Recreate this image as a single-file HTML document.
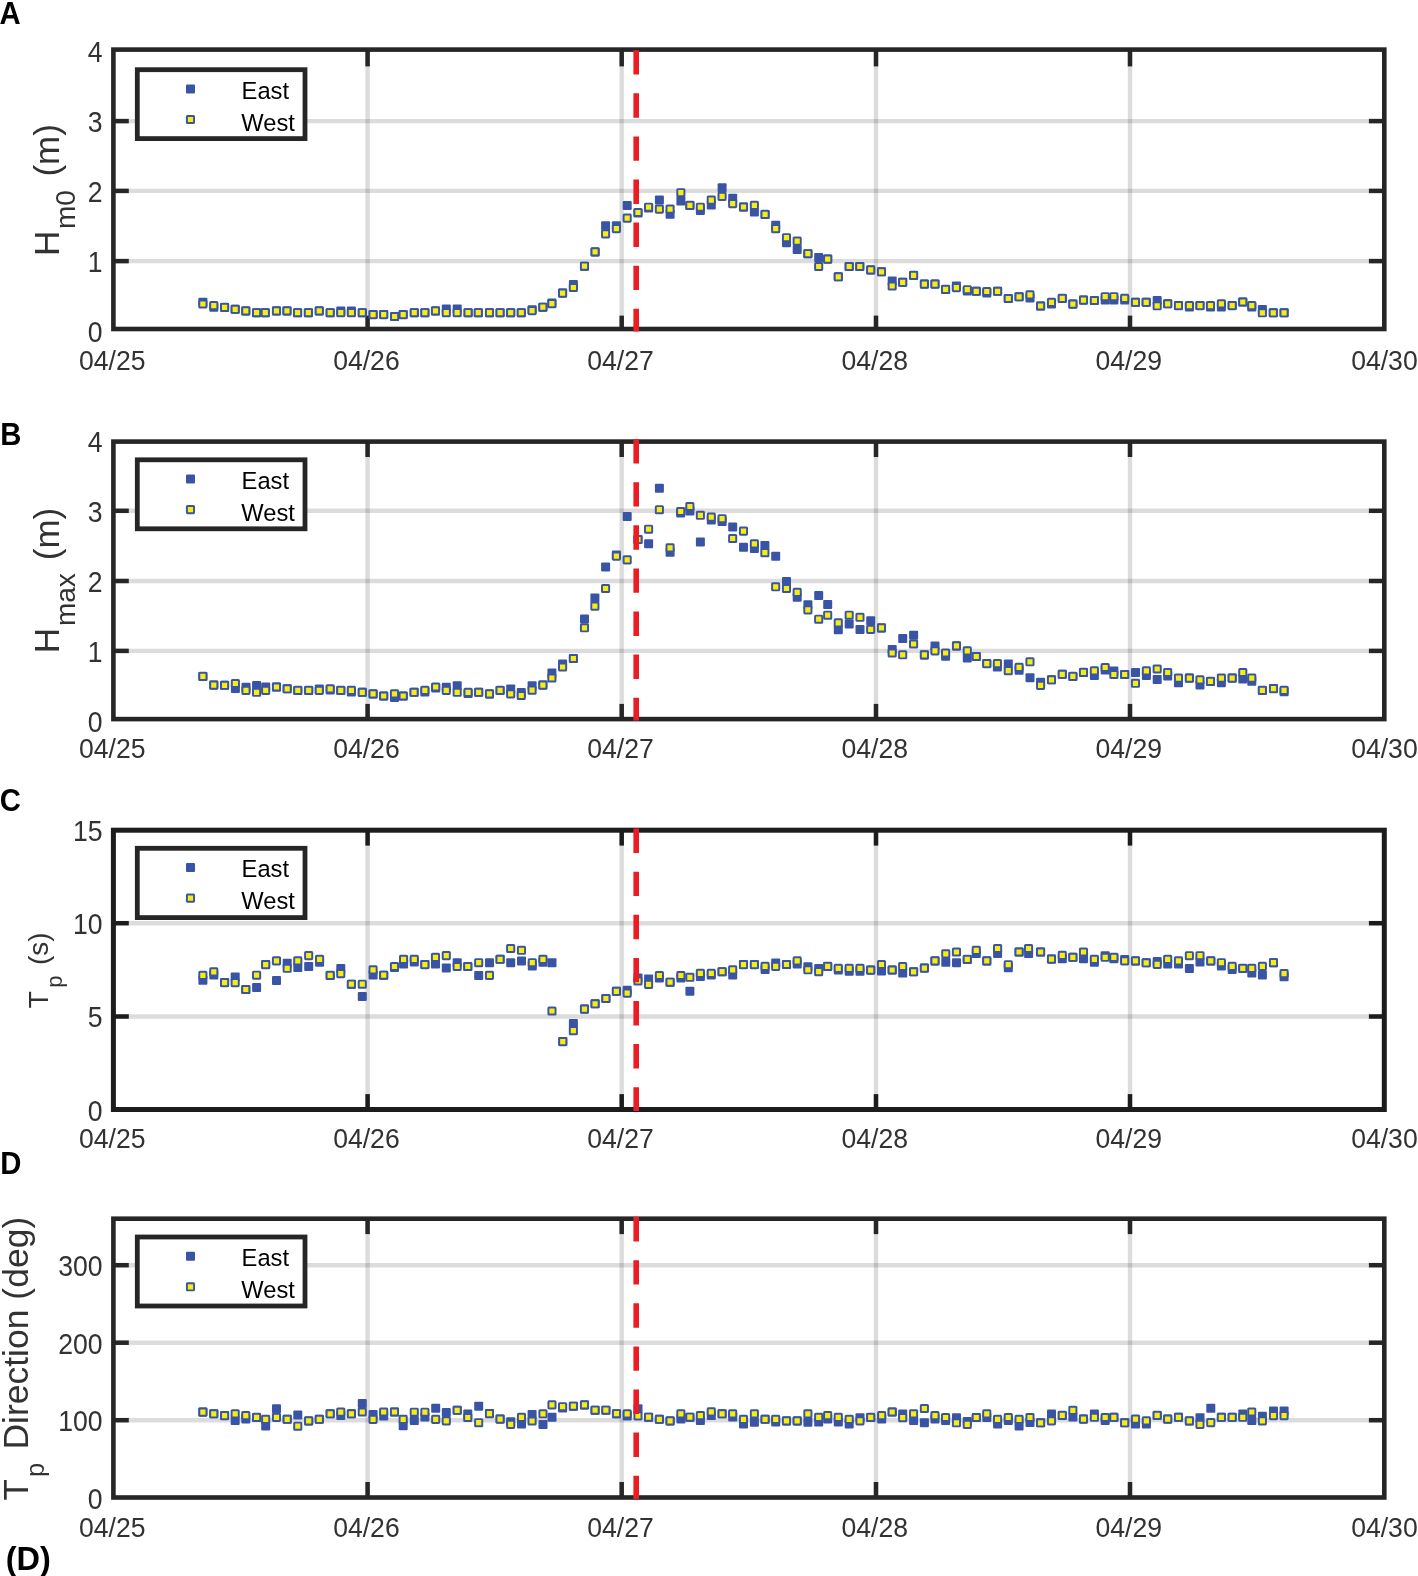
<!DOCTYPE html><html><head><meta charset="utf-8"><style>html,body{margin:0;padding:0;background:#fff;overflow:hidden;}svg{display:block;font-family:"Liberation Sans", sans-serif;filter:blur(0.45px);}</style></head><body>
<svg width="1418" height="1576" viewBox="0 0 1418 1576">
<rect width="1418" height="1576" fill="#fff"/>
<g><line x1="113.4" y1="261.1" x2="1384.3" y2="261.1" stroke="#262626" stroke-opacity="0.16" stroke-width="4.4"/><line x1="113.4" y1="190.9" x2="1384.3" y2="190.9" stroke="#262626" stroke-opacity="0.16" stroke-width="4.4"/><line x1="113.4" y1="121.1" x2="1384.3" y2="121.1" stroke="#262626" stroke-opacity="0.16" stroke-width="4.4"/><line x1="367.6" y1="49.6" x2="367.6" y2="329.0" stroke="#262626" stroke-opacity="0.16" stroke-width="4.4"/><line x1="621.7" y1="49.6" x2="621.7" y2="329.0" stroke="#262626" stroke-opacity="0.16" stroke-width="4.4"/><line x1="876.0" y1="49.6" x2="876.0" y2="329.0" stroke="#262626" stroke-opacity="0.16" stroke-width="4.4"/><line x1="1130.0" y1="49.6" x2="1130.0" y2="329.0" stroke="#262626" stroke-opacity="0.16" stroke-width="4.4"/><line x1="113.4" y1="261.1" x2="128.8" y2="261.1" stroke="#262626" stroke-width="4.5"/><line x1="1368.8999999999999" y1="261.1" x2="1384.3" y2="261.1" stroke="#262626" stroke-width="4.5"/><line x1="113.4" y1="190.9" x2="128.8" y2="190.9" stroke="#262626" stroke-width="4.5"/><line x1="1368.8999999999999" y1="190.9" x2="1384.3" y2="190.9" stroke="#262626" stroke-width="4.5"/><line x1="113.4" y1="121.1" x2="128.8" y2="121.1" stroke="#262626" stroke-width="4.5"/><line x1="1368.8999999999999" y1="121.1" x2="1384.3" y2="121.1" stroke="#262626" stroke-width="4.5"/><line x1="367.6" y1="49.6" x2="367.6" y2="66.4" stroke="#262626" stroke-width="4.5"/><line x1="367.6" y1="315.6" x2="367.6" y2="329.0" stroke="#262626" stroke-width="4.5"/><line x1="621.7" y1="49.6" x2="621.7" y2="66.4" stroke="#262626" stroke-width="4.5"/><line x1="621.7" y1="315.6" x2="621.7" y2="329.0" stroke="#262626" stroke-width="4.5"/><line x1="876.0" y1="49.6" x2="876.0" y2="66.4" stroke="#262626" stroke-width="4.5"/><line x1="876.0" y1="315.6" x2="876.0" y2="329.0" stroke="#262626" stroke-width="4.5"/><line x1="1130.0" y1="49.6" x2="1130.0" y2="66.4" stroke="#262626" stroke-width="4.5"/><line x1="1130.0" y1="315.6" x2="1130.0" y2="329.0" stroke="#262626" stroke-width="4.5"/><rect x="113.4" y="49.6" width="1270.9" height="279.4" fill="none" stroke="#262626" stroke-width="4.6"/><rect x="198.4" y="297.7" width="9.0" height="9.0" rx="1" fill="#3a54a5"/><rect x="209.3" y="302.7" width="9.0" height="9.0" rx="1" fill="#3a54a5"/><rect x="220.1" y="302.9" width="9.0" height="9.0" rx="1" fill="#3a54a5"/><rect x="230.7" y="304.8" width="9.0" height="9.0" rx="1" fill="#3a54a5"/><rect x="241.3" y="306.4" width="9.0" height="9.0" rx="1" fill="#3a54a5"/><rect x="252.1" y="308.2" width="9.0" height="9.0" rx="1" fill="#3a54a5"/><rect x="260.8" y="308.2" width="9.0" height="9.0" rx="1" fill="#3a54a5"/><rect x="272.0" y="306.4" width="9.0" height="9.0" rx="1" fill="#3a54a5"/><rect x="282.5" y="306.4" width="9.0" height="9.0" rx="1" fill="#3a54a5"/><rect x="293.1" y="308.2" width="9.0" height="9.0" rx="1" fill="#3a54a5"/><rect x="303.9" y="308.2" width="9.0" height="9.0" rx="1" fill="#3a54a5"/><rect x="314.8" y="306.4" width="9.0" height="9.0" rx="1" fill="#3a54a5"/><rect x="325.7" y="308.2" width="9.0" height="9.0" rx="1" fill="#3a54a5"/><rect x="336.3" y="306.5" width="9.0" height="9.0" rx="1" fill="#3a54a5"/><rect x="346.9" y="306.5" width="9.0" height="9.0" rx="1" fill="#3a54a5"/><rect x="357.8" y="308.2" width="9.0" height="9.0" rx="1" fill="#3a54a5"/><rect x="368.6" y="310.1" width="9.0" height="9.0" rx="1" fill="#3a54a5"/><rect x="379.2" y="310.1" width="9.0" height="9.0" rx="1" fill="#3a54a5"/><rect x="390.1" y="312.0" width="9.0" height="9.0" rx="1" fill="#3a54a5"/><rect x="398.7" y="310.1" width="9.0" height="9.0" rx="1" fill="#3a54a5"/><rect x="409.8" y="308.2" width="9.0" height="9.0" rx="1" fill="#3a54a5"/><rect x="420.4" y="308.2" width="9.0" height="9.0" rx="1" fill="#3a54a5"/><rect x="431.0" y="306.4" width="9.0" height="9.0" rx="1" fill="#3a54a5"/><rect x="441.8" y="304.5" width="9.0" height="9.0" rx="1" fill="#3a54a5"/><rect x="452.7" y="304.5" width="9.0" height="9.0" rx="1" fill="#3a54a5"/><rect x="463.6" y="308.2" width="9.0" height="9.0" rx="1" fill="#3a54a5"/><rect x="473.8" y="308.2" width="9.0" height="9.0" rx="1" fill="#3a54a5"/><rect x="485.0" y="308.2" width="9.0" height="9.0" rx="1" fill="#3a54a5"/><rect x="495.6" y="308.2" width="9.0" height="9.0" rx="1" fill="#3a54a5"/><rect x="506.2" y="308.2" width="9.0" height="9.0" rx="1" fill="#3a54a5"/><rect x="516.8" y="308.2" width="9.0" height="9.0" rx="1" fill="#3a54a5"/><rect x="527.6" y="305.3" width="9.0" height="9.0" rx="1" fill="#3a54a5"/><rect x="538.4" y="302.7" width="9.0" height="9.0" rx="1" fill="#3a54a5"/><rect x="547.4" y="298.4" width="9.0" height="9.0" rx="1" fill="#3a54a5"/><rect x="558.1" y="288.6" width="9.0" height="9.0" rx="1" fill="#3a54a5"/><rect x="568.9" y="279.9" width="9.0" height="9.0" rx="1" fill="#3a54a5"/><rect x="580.0" y="261.7" width="9.0" height="9.0" rx="1" fill="#3a54a5"/><rect x="590.6" y="247.4" width="9.0" height="9.0" rx="1" fill="#3a54a5"/><rect x="601.1" y="221.2" width="9.0" height="9.0" rx="1" fill="#3a54a5"/><rect x="611.9" y="221.2" width="9.0" height="9.0" rx="1" fill="#3a54a5"/><rect x="622.7" y="200.9" width="9.0" height="9.0" rx="1" fill="#3a54a5"/><rect x="633.5" y="208.5" width="9.0" height="9.0" rx="1" fill="#3a54a5"/><rect x="644.1" y="203.5" width="9.0" height="9.0" rx="1" fill="#3a54a5"/><rect x="654.9" y="195.5" width="9.0" height="9.0" rx="1" fill="#3a54a5"/><rect x="665.6" y="209.7" width="9.0" height="9.0" rx="1" fill="#3a54a5"/><rect x="676.4" y="196.5" width="9.0" height="9.0" rx="1" fill="#3a54a5"/><rect x="685.4" y="200.9" width="9.0" height="9.0" rx="1" fill="#3a54a5"/><rect x="695.9" y="206.0" width="9.0" height="9.0" rx="1" fill="#3a54a5"/><rect x="706.8" y="200.5" width="9.0" height="9.0" rx="1" fill="#3a54a5"/><rect x="717.6" y="183.2" width="9.0" height="9.0" rx="1" fill="#3a54a5"/><rect x="728.2" y="193.8" width="9.0" height="9.0" rx="1" fill="#3a54a5"/><rect x="739.0" y="202.5" width="9.0" height="9.0" rx="1" fill="#3a54a5"/><rect x="749.9" y="207.5" width="9.0" height="9.0" rx="1" fill="#3a54a5"/><rect x="760.6" y="209.9" width="9.0" height="9.0" rx="1" fill="#3a54a5"/><rect x="771.2" y="220.7" width="9.0" height="9.0" rx="1" fill="#3a54a5"/><rect x="782.0" y="238.2" width="9.0" height="9.0" rx="1" fill="#3a54a5"/><rect x="792.7" y="245.0" width="9.0" height="9.0" rx="1" fill="#3a54a5"/><rect x="803.4" y="249.2" width="9.0" height="9.0" rx="1" fill="#3a54a5"/><rect x="814.2" y="253.0" width="9.0" height="9.0" rx="1" fill="#3a54a5"/><rect x="823.2" y="254.6" width="9.0" height="9.0" rx="1" fill="#3a54a5"/><rect x="833.8" y="272.3" width="9.0" height="9.0" rx="1" fill="#3a54a5"/><rect x="844.7" y="262.0" width="9.0" height="9.0" rx="1" fill="#3a54a5"/><rect x="855.3" y="262.0" width="9.0" height="9.0" rx="1" fill="#3a54a5"/><rect x="866.2" y="265.4" width="9.0" height="9.0" rx="1" fill="#3a54a5"/><rect x="877.0" y="267.3" width="9.0" height="9.0" rx="1" fill="#3a54a5"/><rect x="887.7" y="276.4" width="9.0" height="9.0" rx="1" fill="#3a54a5"/><rect x="898.2" y="277.8" width="9.0" height="9.0" rx="1" fill="#3a54a5"/><rect x="909.1" y="270.9" width="9.0" height="9.0" rx="1" fill="#3a54a5"/><rect x="919.9" y="279.6" width="9.0" height="9.0" rx="1" fill="#3a54a5"/><rect x="930.5" y="279.6" width="9.0" height="9.0" rx="1" fill="#3a54a5"/><rect x="941.1" y="284.9" width="9.0" height="9.0" rx="1" fill="#3a54a5"/><rect x="951.9" y="281.5" width="9.0" height="9.0" rx="1" fill="#3a54a5"/><rect x="962.8" y="286.5" width="9.0" height="9.0" rx="1" fill="#3a54a5"/><rect x="971.8" y="286.8" width="9.0" height="9.0" rx="1" fill="#3a54a5"/><rect x="982.3" y="288.5" width="9.0" height="9.0" rx="1" fill="#3a54a5"/><rect x="993.1" y="286.8" width="9.0" height="9.0" rx="1" fill="#3a54a5"/><rect x="1003.8" y="294.0" width="9.0" height="9.0" rx="1" fill="#3a54a5"/><rect x="1014.6" y="292.3" width="9.0" height="9.0" rx="1" fill="#3a54a5"/><rect x="1025.5" y="293.5" width="9.0" height="9.0" rx="1" fill="#3a54a5"/><rect x="1036.1" y="301.5" width="9.0" height="9.0" rx="1" fill="#3a54a5"/><rect x="1047.0" y="299.5" width="9.0" height="9.0" rx="1" fill="#3a54a5"/><rect x="1057.8" y="293.9" width="9.0" height="9.0" rx="1" fill="#3a54a5"/><rect x="1068.4" y="299.6" width="9.0" height="9.0" rx="1" fill="#3a54a5"/><rect x="1079.0" y="295.6" width="9.0" height="9.0" rx="1" fill="#3a54a5"/><rect x="1089.9" y="296.0" width="9.0" height="9.0" rx="1" fill="#3a54a5"/><rect x="1100.7" y="295.5" width="9.0" height="9.0" rx="1" fill="#3a54a5"/><rect x="1109.4" y="295.5" width="9.0" height="9.0" rx="1" fill="#3a54a5"/><rect x="1120.2" y="295.5" width="9.0" height="9.0" rx="1" fill="#3a54a5"/><rect x="1131.0" y="297.8" width="9.0" height="9.0" rx="1" fill="#3a54a5"/><rect x="1141.7" y="297.8" width="9.0" height="9.0" rx="1" fill="#3a54a5"/><rect x="1152.7" y="295.9" width="9.0" height="9.0" rx="1" fill="#3a54a5"/><rect x="1163.2" y="299.3" width="9.0" height="9.0" rx="1" fill="#3a54a5"/><rect x="1174.0" y="301.1" width="9.0" height="9.0" rx="1" fill="#3a54a5"/><rect x="1184.9" y="302.5" width="9.0" height="9.0" rx="1" fill="#3a54a5"/><rect x="1195.5" y="301.1" width="9.0" height="9.0" rx="1" fill="#3a54a5"/><rect x="1206.0" y="302.5" width="9.0" height="9.0" rx="1" fill="#3a54a5"/><rect x="1216.9" y="302.5" width="9.0" height="9.0" rx="1" fill="#3a54a5"/><rect x="1227.7" y="301.1" width="9.0" height="9.0" rx="1" fill="#3a54a5"/><rect x="1238.3" y="297.5" width="9.0" height="9.0" rx="1" fill="#3a54a5"/><rect x="1247.3" y="302.5" width="9.0" height="9.0" rx="1" fill="#3a54a5"/><rect x="1257.9" y="304.9" width="9.0" height="9.0" rx="1" fill="#3a54a5"/><rect x="1268.8" y="308.3" width="9.0" height="9.0" rx="1" fill="#3a54a5"/><rect x="1279.6" y="308.3" width="9.0" height="9.0" rx="1" fill="#3a54a5"/><rect x="199.3" y="300.4" width="7.15" height="7.15" rx="0.6" fill="#f7ee0c" stroke="#3a54a5" stroke-width="1.95"/><rect x="210.2" y="302.0" width="7.15" height="7.15" rx="0.6" fill="#f7ee0c" stroke="#3a54a5" stroke-width="1.95"/><rect x="221.0" y="303.8" width="7.15" height="7.15" rx="0.6" fill="#f7ee0c" stroke="#3a54a5" stroke-width="1.95"/><rect x="231.6" y="305.7" width="7.15" height="7.15" rx="0.6" fill="#f7ee0c" stroke="#3a54a5" stroke-width="1.95"/><rect x="242.2" y="307.3" width="7.15" height="7.15" rx="0.6" fill="#f7ee0c" stroke="#3a54a5" stroke-width="1.95"/><rect x="253.0" y="309.1" width="7.15" height="7.15" rx="0.6" fill="#f7ee0c" stroke="#3a54a5" stroke-width="1.95"/><rect x="261.7" y="309.1" width="7.15" height="7.15" rx="0.6" fill="#f7ee0c" stroke="#3a54a5" stroke-width="1.95"/><rect x="272.9" y="307.3" width="7.15" height="7.15" rx="0.6" fill="#f7ee0c" stroke="#3a54a5" stroke-width="1.95"/><rect x="283.4" y="307.3" width="7.15" height="7.15" rx="0.6" fill="#f7ee0c" stroke="#3a54a5" stroke-width="1.95"/><rect x="294.0" y="309.1" width="7.15" height="7.15" rx="0.6" fill="#f7ee0c" stroke="#3a54a5" stroke-width="1.95"/><rect x="304.8" y="309.1" width="7.15" height="7.15" rx="0.6" fill="#f7ee0c" stroke="#3a54a5" stroke-width="1.95"/><rect x="315.7" y="307.3" width="7.15" height="7.15" rx="0.6" fill="#f7ee0c" stroke="#3a54a5" stroke-width="1.95"/><rect x="326.6" y="309.1" width="7.15" height="7.15" rx="0.6" fill="#f7ee0c" stroke="#3a54a5" stroke-width="1.95"/><rect x="337.2" y="309.1" width="7.15" height="7.15" rx="0.6" fill="#f7ee0c" stroke="#3a54a5" stroke-width="1.95"/><rect x="347.8" y="309.1" width="7.15" height="7.15" rx="0.6" fill="#f7ee0c" stroke="#3a54a5" stroke-width="1.95"/><rect x="358.7" y="309.1" width="7.15" height="7.15" rx="0.6" fill="#f7ee0c" stroke="#3a54a5" stroke-width="1.95"/><rect x="369.5" y="311.0" width="7.15" height="7.15" rx="0.6" fill="#f7ee0c" stroke="#3a54a5" stroke-width="1.95"/><rect x="380.1" y="311.0" width="7.15" height="7.15" rx="0.6" fill="#f7ee0c" stroke="#3a54a5" stroke-width="1.95"/><rect x="391.0" y="312.9" width="7.15" height="7.15" rx="0.6" fill="#f7ee0c" stroke="#3a54a5" stroke-width="1.95"/><rect x="399.6" y="311.0" width="7.15" height="7.15" rx="0.6" fill="#f7ee0c" stroke="#3a54a5" stroke-width="1.95"/><rect x="410.7" y="309.1" width="7.15" height="7.15" rx="0.6" fill="#f7ee0c" stroke="#3a54a5" stroke-width="1.95"/><rect x="421.3" y="309.1" width="7.15" height="7.15" rx="0.6" fill="#f7ee0c" stroke="#3a54a5" stroke-width="1.95"/><rect x="431.9" y="307.3" width="7.15" height="7.15" rx="0.6" fill="#f7ee0c" stroke="#3a54a5" stroke-width="1.95"/><rect x="442.7" y="309.1" width="7.15" height="7.15" rx="0.6" fill="#f7ee0c" stroke="#3a54a5" stroke-width="1.95"/><rect x="453.6" y="309.1" width="7.15" height="7.15" rx="0.6" fill="#f7ee0c" stroke="#3a54a5" stroke-width="1.95"/><rect x="464.5" y="309.1" width="7.15" height="7.15" rx="0.6" fill="#f7ee0c" stroke="#3a54a5" stroke-width="1.95"/><rect x="474.7" y="309.1" width="7.15" height="7.15" rx="0.6" fill="#f7ee0c" stroke="#3a54a5" stroke-width="1.95"/><rect x="485.9" y="309.1" width="7.15" height="7.15" rx="0.6" fill="#f7ee0c" stroke="#3a54a5" stroke-width="1.95"/><rect x="496.5" y="309.1" width="7.15" height="7.15" rx="0.6" fill="#f7ee0c" stroke="#3a54a5" stroke-width="1.95"/><rect x="507.1" y="309.1" width="7.15" height="7.15" rx="0.6" fill="#f7ee0c" stroke="#3a54a5" stroke-width="1.95"/><rect x="517.7" y="309.1" width="7.15" height="7.15" rx="0.6" fill="#f7ee0c" stroke="#3a54a5" stroke-width="1.95"/><rect x="528.5" y="307.0" width="7.15" height="7.15" rx="0.6" fill="#f7ee0c" stroke="#3a54a5" stroke-width="1.95"/><rect x="539.3" y="303.6" width="7.15" height="7.15" rx="0.6" fill="#f7ee0c" stroke="#3a54a5" stroke-width="1.95"/><rect x="548.3" y="300.1" width="7.15" height="7.15" rx="0.6" fill="#f7ee0c" stroke="#3a54a5" stroke-width="1.95"/><rect x="559.0" y="289.5" width="7.15" height="7.15" rx="0.6" fill="#f7ee0c" stroke="#3a54a5" stroke-width="1.95"/><rect x="569.8" y="283.9" width="7.15" height="7.15" rx="0.6" fill="#f7ee0c" stroke="#3a54a5" stroke-width="1.95"/><rect x="580.9" y="262.6" width="7.15" height="7.15" rx="0.6" fill="#f7ee0c" stroke="#3a54a5" stroke-width="1.95"/><rect x="591.5" y="248.3" width="7.15" height="7.15" rx="0.6" fill="#f7ee0c" stroke="#3a54a5" stroke-width="1.95"/><rect x="602.0" y="230.3" width="7.15" height="7.15" rx="0.6" fill="#f7ee0c" stroke="#3a54a5" stroke-width="1.95"/><rect x="612.8" y="225.0" width="7.15" height="7.15" rx="0.6" fill="#f7ee0c" stroke="#3a54a5" stroke-width="1.95"/><rect x="623.6" y="214.5" width="7.15" height="7.15" rx="0.6" fill="#f7ee0c" stroke="#3a54a5" stroke-width="1.95"/><rect x="634.4" y="208.9" width="7.15" height="7.15" rx="0.6" fill="#f7ee0c" stroke="#3a54a5" stroke-width="1.95"/><rect x="645.0" y="203.6" width="7.15" height="7.15" rx="0.6" fill="#f7ee0c" stroke="#3a54a5" stroke-width="1.95"/><rect x="655.8" y="205.5" width="7.15" height="7.15" rx="0.6" fill="#f7ee0c" stroke="#3a54a5" stroke-width="1.95"/><rect x="666.5" y="205.5" width="7.15" height="7.15" rx="0.6" fill="#f7ee0c" stroke="#3a54a5" stroke-width="1.95"/><rect x="677.3" y="189.1" width="7.15" height="7.15" rx="0.6" fill="#f7ee0c" stroke="#3a54a5" stroke-width="1.95"/><rect x="686.3" y="201.8" width="7.15" height="7.15" rx="0.6" fill="#f7ee0c" stroke="#3a54a5" stroke-width="1.95"/><rect x="696.8" y="203.6" width="7.15" height="7.15" rx="0.6" fill="#f7ee0c" stroke="#3a54a5" stroke-width="1.95"/><rect x="707.7" y="196.5" width="7.15" height="7.15" rx="0.6" fill="#f7ee0c" stroke="#3a54a5" stroke-width="1.95"/><rect x="718.5" y="192.8" width="7.15" height="7.15" rx="0.6" fill="#f7ee0c" stroke="#3a54a5" stroke-width="1.95"/><rect x="729.1" y="200.0" width="7.15" height="7.15" rx="0.6" fill="#f7ee0c" stroke="#3a54a5" stroke-width="1.95"/><rect x="739.9" y="203.4" width="7.15" height="7.15" rx="0.6" fill="#f7ee0c" stroke="#3a54a5" stroke-width="1.95"/><rect x="750.8" y="201.8" width="7.15" height="7.15" rx="0.6" fill="#f7ee0c" stroke="#3a54a5" stroke-width="1.95"/><rect x="761.5" y="210.8" width="7.15" height="7.15" rx="0.6" fill="#f7ee0c" stroke="#3a54a5" stroke-width="1.95"/><rect x="772.1" y="225.1" width="7.15" height="7.15" rx="0.6" fill="#f7ee0c" stroke="#3a54a5" stroke-width="1.95"/><rect x="782.9" y="234.1" width="7.15" height="7.15" rx="0.6" fill="#f7ee0c" stroke="#3a54a5" stroke-width="1.95"/><rect x="793.6" y="237.5" width="7.15" height="7.15" rx="0.6" fill="#f7ee0c" stroke="#3a54a5" stroke-width="1.95"/><rect x="804.3" y="250.1" width="7.15" height="7.15" rx="0.6" fill="#f7ee0c" stroke="#3a54a5" stroke-width="1.95"/><rect x="815.1" y="262.9" width="7.15" height="7.15" rx="0.6" fill="#f7ee0c" stroke="#3a54a5" stroke-width="1.95"/><rect x="824.1" y="255.5" width="7.15" height="7.15" rx="0.6" fill="#f7ee0c" stroke="#3a54a5" stroke-width="1.95"/><rect x="834.7" y="273.2" width="7.15" height="7.15" rx="0.6" fill="#f7ee0c" stroke="#3a54a5" stroke-width="1.95"/><rect x="845.6" y="262.9" width="7.15" height="7.15" rx="0.6" fill="#f7ee0c" stroke="#3a54a5" stroke-width="1.95"/><rect x="856.2" y="262.9" width="7.15" height="7.15" rx="0.6" fill="#f7ee0c" stroke="#3a54a5" stroke-width="1.95"/><rect x="867.1" y="266.3" width="7.15" height="7.15" rx="0.6" fill="#f7ee0c" stroke="#3a54a5" stroke-width="1.95"/><rect x="877.9" y="268.2" width="7.15" height="7.15" rx="0.6" fill="#f7ee0c" stroke="#3a54a5" stroke-width="1.95"/><rect x="888.6" y="282.4" width="7.15" height="7.15" rx="0.6" fill="#f7ee0c" stroke="#3a54a5" stroke-width="1.95"/><rect x="899.1" y="278.7" width="7.15" height="7.15" rx="0.6" fill="#f7ee0c" stroke="#3a54a5" stroke-width="1.95"/><rect x="910.0" y="271.8" width="7.15" height="7.15" rx="0.6" fill="#f7ee0c" stroke="#3a54a5" stroke-width="1.95"/><rect x="920.8" y="280.5" width="7.15" height="7.15" rx="0.6" fill="#f7ee0c" stroke="#3a54a5" stroke-width="1.95"/><rect x="931.4" y="280.5" width="7.15" height="7.15" rx="0.6" fill="#f7ee0c" stroke="#3a54a5" stroke-width="1.95"/><rect x="942.0" y="285.8" width="7.15" height="7.15" rx="0.6" fill="#f7ee0c" stroke="#3a54a5" stroke-width="1.95"/><rect x="952.8" y="284.0" width="7.15" height="7.15" rx="0.6" fill="#f7ee0c" stroke="#3a54a5" stroke-width="1.95"/><rect x="963.7" y="286.1" width="7.15" height="7.15" rx="0.6" fill="#f7ee0c" stroke="#3a54a5" stroke-width="1.95"/><rect x="972.7" y="287.7" width="7.15" height="7.15" rx="0.6" fill="#f7ee0c" stroke="#3a54a5" stroke-width="1.95"/><rect x="983.2" y="287.9" width="7.15" height="7.15" rx="0.6" fill="#f7ee0c" stroke="#3a54a5" stroke-width="1.95"/><rect x="994.0" y="287.7" width="7.15" height="7.15" rx="0.6" fill="#f7ee0c" stroke="#3a54a5" stroke-width="1.95"/><rect x="1004.7" y="294.9" width="7.15" height="7.15" rx="0.6" fill="#f7ee0c" stroke="#3a54a5" stroke-width="1.95"/><rect x="1015.5" y="293.2" width="7.15" height="7.15" rx="0.6" fill="#f7ee0c" stroke="#3a54a5" stroke-width="1.95"/><rect x="1026.4" y="291.3" width="7.15" height="7.15" rx="0.6" fill="#f7ee0c" stroke="#3a54a5" stroke-width="1.95"/><rect x="1037.0" y="302.4" width="7.15" height="7.15" rx="0.6" fill="#f7ee0c" stroke="#3a54a5" stroke-width="1.95"/><rect x="1047.9" y="298.7" width="7.15" height="7.15" rx="0.6" fill="#f7ee0c" stroke="#3a54a5" stroke-width="1.95"/><rect x="1058.7" y="294.8" width="7.15" height="7.15" rx="0.6" fill="#f7ee0c" stroke="#3a54a5" stroke-width="1.95"/><rect x="1069.3" y="300.5" width="7.15" height="7.15" rx="0.6" fill="#f7ee0c" stroke="#3a54a5" stroke-width="1.95"/><rect x="1079.9" y="296.5" width="7.15" height="7.15" rx="0.6" fill="#f7ee0c" stroke="#3a54a5" stroke-width="1.95"/><rect x="1090.8" y="296.9" width="7.15" height="7.15" rx="0.6" fill="#f7ee0c" stroke="#3a54a5" stroke-width="1.95"/><rect x="1101.6" y="293.1" width="7.15" height="7.15" rx="0.6" fill="#f7ee0c" stroke="#3a54a5" stroke-width="1.95"/><rect x="1110.3" y="293.1" width="7.15" height="7.15" rx="0.6" fill="#f7ee0c" stroke="#3a54a5" stroke-width="1.95"/><rect x="1121.1" y="294.8" width="7.15" height="7.15" rx="0.6" fill="#f7ee0c" stroke="#3a54a5" stroke-width="1.95"/><rect x="1131.9" y="298.7" width="7.15" height="7.15" rx="0.6" fill="#f7ee0c" stroke="#3a54a5" stroke-width="1.95"/><rect x="1142.6" y="298.7" width="7.15" height="7.15" rx="0.6" fill="#f7ee0c" stroke="#3a54a5" stroke-width="1.95"/><rect x="1153.6" y="302.2" width="7.15" height="7.15" rx="0.6" fill="#f7ee0c" stroke="#3a54a5" stroke-width="1.95"/><rect x="1164.1" y="300.2" width="7.15" height="7.15" rx="0.6" fill="#f7ee0c" stroke="#3a54a5" stroke-width="1.95"/><rect x="1174.9" y="302.0" width="7.15" height="7.15" rx="0.6" fill="#f7ee0c" stroke="#3a54a5" stroke-width="1.95"/><rect x="1185.8" y="302.0" width="7.15" height="7.15" rx="0.6" fill="#f7ee0c" stroke="#3a54a5" stroke-width="1.95"/><rect x="1196.4" y="302.0" width="7.15" height="7.15" rx="0.6" fill="#f7ee0c" stroke="#3a54a5" stroke-width="1.95"/><rect x="1206.9" y="302.0" width="7.15" height="7.15" rx="0.6" fill="#f7ee0c" stroke="#3a54a5" stroke-width="1.95"/><rect x="1217.8" y="300.2" width="7.15" height="7.15" rx="0.6" fill="#f7ee0c" stroke="#3a54a5" stroke-width="1.95"/><rect x="1228.6" y="302.0" width="7.15" height="7.15" rx="0.6" fill="#f7ee0c" stroke="#3a54a5" stroke-width="1.95"/><rect x="1239.2" y="298.4" width="7.15" height="7.15" rx="0.6" fill="#f7ee0c" stroke="#3a54a5" stroke-width="1.95"/><rect x="1248.2" y="302.0" width="7.15" height="7.15" rx="0.6" fill="#f7ee0c" stroke="#3a54a5" stroke-width="1.95"/><rect x="1258.8" y="309.2" width="7.15" height="7.15" rx="0.6" fill="#f7ee0c" stroke="#3a54a5" stroke-width="1.95"/><rect x="1269.7" y="309.2" width="7.15" height="7.15" rx="0.6" fill="#f7ee0c" stroke="#3a54a5" stroke-width="1.95"/><rect x="1280.5" y="309.2" width="7.15" height="7.15" rx="0.6" fill="#f7ee0c" stroke="#3a54a5" stroke-width="1.95"/><line x1="636.2" y1="50.2" x2="636.2" y2="331.5" stroke="#ec1c24" stroke-width="5.6" stroke-dasharray="24.4 18.7"/><rect x="137.3" y="69.7" width="167.7" height="68.9" fill="#fff" stroke="#262626" stroke-width="4.8"/><rect x="186.0" y="84.5" width="9.0" height="9.0" rx="1" fill="#3a54a5"/><rect x="186.9" y="115.9" width="7.15" height="7.15" rx="0.6" fill="#f7ee0c" stroke="#3a54a5" stroke-width="1.95"/><text transform="translate(241.60,98.50) scale(1,1.02)" font-size="23.7" fill="#000">East</text><text transform="translate(241.30,130.60) scale(1,1.02)" font-size="23.7" fill="#000">West</text><text transform="translate(102.60,341.90) scale(1,1.08)" font-size="26.6" fill="#323232" text-anchor="end">0</text><text transform="translate(102.60,272.00) scale(1,1.08)" font-size="26.6" fill="#323232" text-anchor="end">1</text><text transform="translate(102.60,201.80) scale(1,1.08)" font-size="26.6" fill="#323232" text-anchor="end">2</text><text transform="translate(102.60,132.00) scale(1,1.08)" font-size="26.6" fill="#323232" text-anchor="end">3</text><text transform="translate(102.60,62.10) scale(1,1.08)" font-size="26.6" fill="#323232" text-anchor="end">4</text><text transform="translate(112.20,369.60) scale(1,1.05)" font-size="26.6" fill="#323232" text-anchor="middle">04/25</text><text transform="translate(366.40,369.60) scale(1,1.05)" font-size="26.6" fill="#323232" text-anchor="middle">04/26</text><text transform="translate(620.50,369.60) scale(1,1.05)" font-size="26.6" fill="#323232" text-anchor="middle">04/27</text><text transform="translate(874.80,369.60) scale(1,1.05)" font-size="26.6" fill="#323232" text-anchor="middle">04/28</text><text transform="translate(1128.80,369.60) scale(1,1.05)" font-size="26.6" fill="#323232" text-anchor="middle">04/29</text><text transform="translate(1384.40,369.60) scale(1,1.05)" font-size="26.6" fill="#323232" text-anchor="middle">04/30</text></g>
<g><line x1="113.4" y1="650.9" x2="1384.3" y2="650.9" stroke="#262626" stroke-opacity="0.16" stroke-width="4.4"/><line x1="113.4" y1="581.0" x2="1384.3" y2="581.0" stroke="#262626" stroke-opacity="0.16" stroke-width="4.4"/><line x1="113.4" y1="510.8" x2="1384.3" y2="510.8" stroke="#262626" stroke-opacity="0.16" stroke-width="4.4"/><line x1="367.6" y1="441.6" x2="367.6" y2="719.1" stroke="#262626" stroke-opacity="0.16" stroke-width="4.4"/><line x1="621.7" y1="441.6" x2="621.7" y2="719.1" stroke="#262626" stroke-opacity="0.16" stroke-width="4.4"/><line x1="876.0" y1="441.6" x2="876.0" y2="719.1" stroke="#262626" stroke-opacity="0.16" stroke-width="4.4"/><line x1="1130.0" y1="441.6" x2="1130.0" y2="719.1" stroke="#262626" stroke-opacity="0.16" stroke-width="4.4"/><line x1="113.4" y1="650.9" x2="128.8" y2="650.9" stroke="#262626" stroke-width="4.5"/><line x1="1368.8999999999999" y1="650.9" x2="1384.3" y2="650.9" stroke="#262626" stroke-width="4.5"/><line x1="113.4" y1="581.0" x2="128.8" y2="581.0" stroke="#262626" stroke-width="4.5"/><line x1="1368.8999999999999" y1="581.0" x2="1384.3" y2="581.0" stroke="#262626" stroke-width="4.5"/><line x1="113.4" y1="510.8" x2="128.8" y2="510.8" stroke="#262626" stroke-width="4.5"/><line x1="1368.8999999999999" y1="510.8" x2="1384.3" y2="510.8" stroke="#262626" stroke-width="4.5"/><line x1="367.6" y1="441.6" x2="367.6" y2="457.0" stroke="#262626" stroke-width="4.5"/><line x1="367.6" y1="703.9" x2="367.6" y2="719.1" stroke="#262626" stroke-width="4.5"/><line x1="621.7" y1="441.6" x2="621.7" y2="457.0" stroke="#262626" stroke-width="4.5"/><line x1="621.7" y1="703.9" x2="621.7" y2="719.1" stroke="#262626" stroke-width="4.5"/><line x1="876.0" y1="441.6" x2="876.0" y2="457.0" stroke="#262626" stroke-width="4.5"/><line x1="876.0" y1="703.9" x2="876.0" y2="719.1" stroke="#262626" stroke-width="4.5"/><line x1="1130.0" y1="441.6" x2="1130.0" y2="457.0" stroke="#262626" stroke-width="4.5"/><line x1="1130.0" y1="703.9" x2="1130.0" y2="719.1" stroke="#262626" stroke-width="4.5"/><rect x="113.4" y="441.6" width="1270.9" height="277.5" fill="none" stroke="#262626" stroke-width="4.6"/><rect x="198.4" y="671.9" width="9.0" height="9.0" rx="1" fill="#3a54a5"/><rect x="209.3" y="680.6" width="9.0" height="9.0" rx="1" fill="#3a54a5"/><rect x="220.1" y="680.8" width="9.0" height="9.0" rx="1" fill="#3a54a5"/><rect x="230.9" y="684.0" width="9.0" height="9.0" rx="1" fill="#3a54a5"/><rect x="241.5" y="682.8" width="9.0" height="9.0" rx="1" fill="#3a54a5"/><rect x="252.1" y="680.9" width="9.0" height="9.0" rx="1" fill="#3a54a5"/><rect x="261.2" y="682.5" width="9.0" height="9.0" rx="1" fill="#3a54a5"/><rect x="272.0" y="682.5" width="9.0" height="9.0" rx="1" fill="#3a54a5"/><rect x="282.7" y="684.3" width="9.0" height="9.0" rx="1" fill="#3a54a5"/><rect x="293.3" y="685.9" width="9.0" height="9.0" rx="1" fill="#3a54a5"/><rect x="304.2" y="685.9" width="9.0" height="9.0" rx="1" fill="#3a54a5"/><rect x="314.8" y="684.5" width="9.0" height="9.0" rx="1" fill="#3a54a5"/><rect x="325.7" y="685.5" width="9.0" height="9.0" rx="1" fill="#3a54a5"/><rect x="336.3" y="685.9" width="9.0" height="9.0" rx="1" fill="#3a54a5"/><rect x="346.9" y="687.5" width="9.0" height="9.0" rx="1" fill="#3a54a5"/><rect x="357.8" y="687.8" width="9.0" height="9.0" rx="1" fill="#3a54a5"/><rect x="368.6" y="689.4" width="9.0" height="9.0" rx="1" fill="#3a54a5"/><rect x="379.2" y="691.5" width="9.0" height="9.0" rx="1" fill="#3a54a5"/><rect x="390.0" y="692.9" width="9.0" height="9.0" rx="1" fill="#3a54a5"/><rect x="398.7" y="691.5" width="9.0" height="9.0" rx="1" fill="#3a54a5"/><rect x="409.6" y="687.8" width="9.0" height="9.0" rx="1" fill="#3a54a5"/><rect x="420.4" y="687.5" width="9.0" height="9.0" rx="1" fill="#3a54a5"/><rect x="431.2" y="683.5" width="9.0" height="9.0" rx="1" fill="#3a54a5"/><rect x="441.8" y="682.8" width="9.0" height="9.0" rx="1" fill="#3a54a5"/><rect x="452.7" y="681.2" width="9.0" height="9.0" rx="1" fill="#3a54a5"/><rect x="463.6" y="689.1" width="9.0" height="9.0" rx="1" fill="#3a54a5"/><rect x="474.2" y="687.8" width="9.0" height="9.0" rx="1" fill="#3a54a5"/><rect x="485.0" y="689.4" width="9.0" height="9.0" rx="1" fill="#3a54a5"/><rect x="495.6" y="685.9" width="9.0" height="9.0" rx="1" fill="#3a54a5"/><rect x="506.2" y="684.4" width="9.0" height="9.0" rx="1" fill="#3a54a5"/><rect x="516.8" y="688.1" width="9.0" height="9.0" rx="1" fill="#3a54a5"/><rect x="527.6" y="681.2" width="9.0" height="9.0" rx="1" fill="#3a54a5"/><rect x="538.4" y="680.6" width="9.0" height="9.0" rx="1" fill="#3a54a5"/><rect x="547.4" y="668.5" width="9.0" height="9.0" rx="1" fill="#3a54a5"/><rect x="558.1" y="659.5" width="9.0" height="9.0" rx="1" fill="#3a54a5"/><rect x="568.9" y="654.0" width="9.0" height="9.0" rx="1" fill="#3a54a5"/><rect x="580.0" y="614.6" width="9.0" height="9.0" rx="1" fill="#3a54a5"/><rect x="590.4" y="593.4" width="9.0" height="9.0" rx="1" fill="#3a54a5"/><rect x="601.1" y="562.5" width="9.0" height="9.0" rx="1" fill="#3a54a5"/><rect x="611.9" y="550.5" width="9.0" height="9.0" rx="1" fill="#3a54a5"/><rect x="622.7" y="512.0" width="9.0" height="9.0" rx="1" fill="#3a54a5"/><rect x="633.5" y="535.0" width="9.0" height="9.0" rx="1" fill="#3a54a5"/><rect x="644.1" y="539.2" width="9.0" height="9.0" rx="1" fill="#3a54a5"/><rect x="654.9" y="483.7" width="9.0" height="9.0" rx="1" fill="#3a54a5"/><rect x="665.6" y="547.7" width="9.0" height="9.0" rx="1" fill="#3a54a5"/><rect x="676.2" y="508.5" width="9.0" height="9.0" rx="1" fill="#3a54a5"/><rect x="685.4" y="506.5" width="9.0" height="9.0" rx="1" fill="#3a54a5"/><rect x="695.9" y="537.4" width="9.0" height="9.0" rx="1" fill="#3a54a5"/><rect x="706.8" y="515.5" width="9.0" height="9.0" rx="1" fill="#3a54a5"/><rect x="717.6" y="517.1" width="9.0" height="9.0" rx="1" fill="#3a54a5"/><rect x="728.2" y="522.6" width="9.0" height="9.0" rx="1" fill="#3a54a5"/><rect x="739.0" y="542.7" width="9.0" height="9.0" rx="1" fill="#3a54a5"/><rect x="749.9" y="544.0" width="9.0" height="9.0" rx="1" fill="#3a54a5"/><rect x="760.4" y="541.1" width="9.0" height="9.0" rx="1" fill="#3a54a5"/><rect x="771.2" y="551.7" width="9.0" height="9.0" rx="1" fill="#3a54a5"/><rect x="782.0" y="577.1" width="9.0" height="9.0" rx="1" fill="#3a54a5"/><rect x="792.7" y="592.7" width="9.0" height="9.0" rx="1" fill="#3a54a5"/><rect x="803.4" y="600.3" width="9.0" height="9.0" rx="1" fill="#3a54a5"/><rect x="814.2" y="591.1" width="9.0" height="9.0" rx="1" fill="#3a54a5"/><rect x="823.2" y="600.1" width="9.0" height="9.0" rx="1" fill="#3a54a5"/><rect x="833.8" y="625.2" width="9.0" height="9.0" rx="1" fill="#3a54a5"/><rect x="844.7" y="619.4" width="9.0" height="9.0" rx="1" fill="#3a54a5"/><rect x="855.5" y="624.9" width="9.0" height="9.0" rx="1" fill="#3a54a5"/><rect x="866.2" y="616.2" width="9.0" height="9.0" rx="1" fill="#3a54a5"/><rect x="877.0" y="623.4" width="9.0" height="9.0" rx="1" fill="#3a54a5"/><rect x="887.7" y="645.1" width="9.0" height="9.0" rx="1" fill="#3a54a5"/><rect x="898.2" y="634.0" width="9.0" height="9.0" rx="1" fill="#3a54a5"/><rect x="909.1" y="630.8" width="9.0" height="9.0" rx="1" fill="#3a54a5"/><rect x="919.9" y="650.4" width="9.0" height="9.0" rx="1" fill="#3a54a5"/><rect x="930.5" y="641.4" width="9.0" height="9.0" rx="1" fill="#3a54a5"/><rect x="941.1" y="651.8" width="9.0" height="9.0" rx="1" fill="#3a54a5"/><rect x="952.0" y="641.4" width="9.0" height="9.0" rx="1" fill="#3a54a5"/><rect x="962.8" y="653.6" width="9.0" height="9.0" rx="1" fill="#3a54a5"/><rect x="971.8" y="652.0" width="9.0" height="9.0" rx="1" fill="#3a54a5"/><rect x="982.3" y="659.1" width="9.0" height="9.0" rx="1" fill="#3a54a5"/><rect x="992.9" y="662.5" width="9.0" height="9.0" rx="1" fill="#3a54a5"/><rect x="1003.8" y="659.4" width="9.0" height="9.0" rx="1" fill="#3a54a5"/><rect x="1014.6" y="665.7" width="9.0" height="9.0" rx="1" fill="#3a54a5"/><rect x="1025.5" y="673.2" width="9.0" height="9.0" rx="1" fill="#3a54a5"/><rect x="1036.1" y="677.7" width="9.0" height="9.0" rx="1" fill="#3a54a5"/><rect x="1047.0" y="675.3" width="9.0" height="9.0" rx="1" fill="#3a54a5"/><rect x="1057.8" y="669.8" width="9.0" height="9.0" rx="1" fill="#3a54a5"/><rect x="1068.4" y="671.9" width="9.0" height="9.0" rx="1" fill="#3a54a5"/><rect x="1079.0" y="667.9" width="9.0" height="9.0" rx="1" fill="#3a54a5"/><rect x="1089.9" y="671.1" width="9.0" height="9.0" rx="1" fill="#3a54a5"/><rect x="1100.7" y="665.5" width="9.0" height="9.0" rx="1" fill="#3a54a5"/><rect x="1109.4" y="666.4" width="9.0" height="9.0" rx="1" fill="#3a54a5"/><rect x="1120.2" y="670.0" width="9.0" height="9.0" rx="1" fill="#3a54a5"/><rect x="1131.0" y="667.9" width="9.0" height="9.0" rx="1" fill="#3a54a5"/><rect x="1141.9" y="671.1" width="9.0" height="9.0" rx="1" fill="#3a54a5"/><rect x="1152.7" y="675.1" width="9.0" height="9.0" rx="1" fill="#3a54a5"/><rect x="1163.2" y="671.5" width="9.0" height="9.0" rx="1" fill="#3a54a5"/><rect x="1174.0" y="678.3" width="9.0" height="9.0" rx="1" fill="#3a54a5"/><rect x="1184.9" y="673.6" width="9.0" height="9.0" rx="1" fill="#3a54a5"/><rect x="1195.5" y="680.4" width="9.0" height="9.0" rx="1" fill="#3a54a5"/><rect x="1206.0" y="676.9" width="9.0" height="9.0" rx="1" fill="#3a54a5"/><rect x="1216.9" y="678.3" width="9.0" height="9.0" rx="1" fill="#3a54a5"/><rect x="1227.7" y="673.6" width="9.0" height="9.0" rx="1" fill="#3a54a5"/><rect x="1238.3" y="674.5" width="9.0" height="9.0" rx="1" fill="#3a54a5"/><rect x="1247.3" y="676.7" width="9.0" height="9.0" rx="1" fill="#3a54a5"/><rect x="1257.9" y="685.9" width="9.0" height="9.0" rx="1" fill="#3a54a5"/><rect x="1269.0" y="684.1" width="9.0" height="9.0" rx="1" fill="#3a54a5"/><rect x="1279.6" y="687.3" width="9.0" height="9.0" rx="1" fill="#3a54a5"/><rect x="199.3" y="672.8" width="7.15" height="7.15" rx="0.6" fill="#f7ee0c" stroke="#3a54a5" stroke-width="1.95"/><rect x="210.2" y="681.5" width="7.15" height="7.15" rx="0.6" fill="#f7ee0c" stroke="#3a54a5" stroke-width="1.95"/><rect x="221.0" y="681.7" width="7.15" height="7.15" rx="0.6" fill="#f7ee0c" stroke="#3a54a5" stroke-width="1.95"/><rect x="231.8" y="679.9" width="7.15" height="7.15" rx="0.6" fill="#f7ee0c" stroke="#3a54a5" stroke-width="1.95"/><rect x="242.4" y="686.8" width="7.15" height="7.15" rx="0.6" fill="#f7ee0c" stroke="#3a54a5" stroke-width="1.95"/><rect x="253.0" y="688.7" width="7.15" height="7.15" rx="0.6" fill="#f7ee0c" stroke="#3a54a5" stroke-width="1.95"/><rect x="262.1" y="686.8" width="7.15" height="7.15" rx="0.6" fill="#f7ee0c" stroke="#3a54a5" stroke-width="1.95"/><rect x="272.9" y="683.4" width="7.15" height="7.15" rx="0.6" fill="#f7ee0c" stroke="#3a54a5" stroke-width="1.95"/><rect x="283.6" y="685.2" width="7.15" height="7.15" rx="0.6" fill="#f7ee0c" stroke="#3a54a5" stroke-width="1.95"/><rect x="294.2" y="686.8" width="7.15" height="7.15" rx="0.6" fill="#f7ee0c" stroke="#3a54a5" stroke-width="1.95"/><rect x="305.1" y="686.8" width="7.15" height="7.15" rx="0.6" fill="#f7ee0c" stroke="#3a54a5" stroke-width="1.95"/><rect x="315.7" y="686.8" width="7.15" height="7.15" rx="0.6" fill="#f7ee0c" stroke="#3a54a5" stroke-width="1.95"/><rect x="326.6" y="685.2" width="7.15" height="7.15" rx="0.6" fill="#f7ee0c" stroke="#3a54a5" stroke-width="1.95"/><rect x="337.2" y="686.8" width="7.15" height="7.15" rx="0.6" fill="#f7ee0c" stroke="#3a54a5" stroke-width="1.95"/><rect x="347.8" y="686.8" width="7.15" height="7.15" rx="0.6" fill="#f7ee0c" stroke="#3a54a5" stroke-width="1.95"/><rect x="358.7" y="688.7" width="7.15" height="7.15" rx="0.6" fill="#f7ee0c" stroke="#3a54a5" stroke-width="1.95"/><rect x="369.5" y="690.3" width="7.15" height="7.15" rx="0.6" fill="#f7ee0c" stroke="#3a54a5" stroke-width="1.95"/><rect x="380.1" y="692.4" width="7.15" height="7.15" rx="0.6" fill="#f7ee0c" stroke="#3a54a5" stroke-width="1.95"/><rect x="390.9" y="690.3" width="7.15" height="7.15" rx="0.6" fill="#f7ee0c" stroke="#3a54a5" stroke-width="1.95"/><rect x="399.6" y="692.4" width="7.15" height="7.15" rx="0.6" fill="#f7ee0c" stroke="#3a54a5" stroke-width="1.95"/><rect x="410.5" y="688.7" width="7.15" height="7.15" rx="0.6" fill="#f7ee0c" stroke="#3a54a5" stroke-width="1.95"/><rect x="421.3" y="686.8" width="7.15" height="7.15" rx="0.6" fill="#f7ee0c" stroke="#3a54a5" stroke-width="1.95"/><rect x="432.1" y="683.4" width="7.15" height="7.15" rx="0.6" fill="#f7ee0c" stroke="#3a54a5" stroke-width="1.95"/><rect x="442.7" y="686.8" width="7.15" height="7.15" rx="0.6" fill="#f7ee0c" stroke="#3a54a5" stroke-width="1.95"/><rect x="453.6" y="688.7" width="7.15" height="7.15" rx="0.6" fill="#f7ee0c" stroke="#3a54a5" stroke-width="1.95"/><rect x="464.5" y="688.7" width="7.15" height="7.15" rx="0.6" fill="#f7ee0c" stroke="#3a54a5" stroke-width="1.95"/><rect x="475.1" y="688.7" width="7.15" height="7.15" rx="0.6" fill="#f7ee0c" stroke="#3a54a5" stroke-width="1.95"/><rect x="485.9" y="690.3" width="7.15" height="7.15" rx="0.6" fill="#f7ee0c" stroke="#3a54a5" stroke-width="1.95"/><rect x="496.5" y="686.8" width="7.15" height="7.15" rx="0.6" fill="#f7ee0c" stroke="#3a54a5" stroke-width="1.95"/><rect x="507.1" y="690.3" width="7.15" height="7.15" rx="0.6" fill="#f7ee0c" stroke="#3a54a5" stroke-width="1.95"/><rect x="517.7" y="691.9" width="7.15" height="7.15" rx="0.6" fill="#f7ee0c" stroke="#3a54a5" stroke-width="1.95"/><rect x="528.5" y="686.6" width="7.15" height="7.15" rx="0.6" fill="#f7ee0c" stroke="#3a54a5" stroke-width="1.95"/><rect x="539.3" y="681.5" width="7.15" height="7.15" rx="0.6" fill="#f7ee0c" stroke="#3a54a5" stroke-width="1.95"/><rect x="548.3" y="674.4" width="7.15" height="7.15" rx="0.6" fill="#f7ee0c" stroke="#3a54a5" stroke-width="1.95"/><rect x="559.0" y="663.4" width="7.15" height="7.15" rx="0.6" fill="#f7ee0c" stroke="#3a54a5" stroke-width="1.95"/><rect x="569.8" y="654.9" width="7.15" height="7.15" rx="0.6" fill="#f7ee0c" stroke="#3a54a5" stroke-width="1.95"/><rect x="580.9" y="624.2" width="7.15" height="7.15" rx="0.6" fill="#f7ee0c" stroke="#3a54a5" stroke-width="1.95"/><rect x="591.3" y="602.5" width="7.15" height="7.15" rx="0.6" fill="#f7ee0c" stroke="#3a54a5" stroke-width="1.95"/><rect x="602.0" y="584.9" width="7.15" height="7.15" rx="0.6" fill="#f7ee0c" stroke="#3a54a5" stroke-width="1.95"/><rect x="612.8" y="552.5" width="7.15" height="7.15" rx="0.6" fill="#f7ee0c" stroke="#3a54a5" stroke-width="1.95"/><rect x="623.6" y="556.3" width="7.15" height="7.15" rx="0.6" fill="#f7ee0c" stroke="#3a54a5" stroke-width="1.95"/><rect x="634.4" y="535.9" width="7.15" height="7.15" rx="0.6" fill="#f7ee0c" stroke="#3a54a5" stroke-width="1.95"/><rect x="645.0" y="525.6" width="7.15" height="7.15" rx="0.6" fill="#f7ee0c" stroke="#3a54a5" stroke-width="1.95"/><rect x="655.8" y="506.1" width="7.15" height="7.15" rx="0.6" fill="#f7ee0c" stroke="#3a54a5" stroke-width="1.95"/><rect x="666.5" y="544.2" width="7.15" height="7.15" rx="0.6" fill="#f7ee0c" stroke="#3a54a5" stroke-width="1.95"/><rect x="677.1" y="507.9" width="7.15" height="7.15" rx="0.6" fill="#f7ee0c" stroke="#3a54a5" stroke-width="1.95"/><rect x="686.3" y="502.9" width="7.15" height="7.15" rx="0.6" fill="#f7ee0c" stroke="#3a54a5" stroke-width="1.95"/><rect x="696.8" y="511.7" width="7.15" height="7.15" rx="0.6" fill="#f7ee0c" stroke="#3a54a5" stroke-width="1.95"/><rect x="707.7" y="513.5" width="7.15" height="7.15" rx="0.6" fill="#f7ee0c" stroke="#3a54a5" stroke-width="1.95"/><rect x="718.5" y="515.1" width="7.15" height="7.15" rx="0.6" fill="#f7ee0c" stroke="#3a54a5" stroke-width="1.95"/><rect x="729.1" y="534.9" width="7.15" height="7.15" rx="0.6" fill="#f7ee0c" stroke="#3a54a5" stroke-width="1.95"/><rect x="739.9" y="527.5" width="7.15" height="7.15" rx="0.6" fill="#f7ee0c" stroke="#3a54a5" stroke-width="1.95"/><rect x="750.8" y="540.2" width="7.15" height="7.15" rx="0.6" fill="#f7ee0c" stroke="#3a54a5" stroke-width="1.95"/><rect x="761.3" y="549.1" width="7.15" height="7.15" rx="0.6" fill="#f7ee0c" stroke="#3a54a5" stroke-width="1.95"/><rect x="772.1" y="583.2" width="7.15" height="7.15" rx="0.6" fill="#f7ee0c" stroke="#3a54a5" stroke-width="1.95"/><rect x="782.9" y="584.9" width="7.15" height="7.15" rx="0.6" fill="#f7ee0c" stroke="#3a54a5" stroke-width="1.95"/><rect x="793.6" y="588.8" width="7.15" height="7.15" rx="0.6" fill="#f7ee0c" stroke="#3a54a5" stroke-width="1.95"/><rect x="804.3" y="606.3" width="7.15" height="7.15" rx="0.6" fill="#f7ee0c" stroke="#3a54a5" stroke-width="1.95"/><rect x="815.1" y="615.6" width="7.15" height="7.15" rx="0.6" fill="#f7ee0c" stroke="#3a54a5" stroke-width="1.95"/><rect x="824.1" y="611.6" width="7.15" height="7.15" rx="0.6" fill="#f7ee0c" stroke="#3a54a5" stroke-width="1.95"/><rect x="834.7" y="619.3" width="7.15" height="7.15" rx="0.6" fill="#f7ee0c" stroke="#3a54a5" stroke-width="1.95"/><rect x="845.6" y="611.6" width="7.15" height="7.15" rx="0.6" fill="#f7ee0c" stroke="#3a54a5" stroke-width="1.95"/><rect x="856.4" y="613.7" width="7.15" height="7.15" rx="0.6" fill="#f7ee0c" stroke="#3a54a5" stroke-width="1.95"/><rect x="867.1" y="625.8" width="7.15" height="7.15" rx="0.6" fill="#f7ee0c" stroke="#3a54a5" stroke-width="1.95"/><rect x="877.9" y="624.3" width="7.15" height="7.15" rx="0.6" fill="#f7ee0c" stroke="#3a54a5" stroke-width="1.95"/><rect x="888.6" y="649.4" width="7.15" height="7.15" rx="0.6" fill="#f7ee0c" stroke="#3a54a5" stroke-width="1.95"/><rect x="899.1" y="651.2" width="7.15" height="7.15" rx="0.6" fill="#f7ee0c" stroke="#3a54a5" stroke-width="1.95"/><rect x="910.0" y="640.4" width="7.15" height="7.15" rx="0.6" fill="#f7ee0c" stroke="#3a54a5" stroke-width="1.95"/><rect x="920.8" y="651.3" width="7.15" height="7.15" rx="0.6" fill="#f7ee0c" stroke="#3a54a5" stroke-width="1.95"/><rect x="931.4" y="647.3" width="7.15" height="7.15" rx="0.6" fill="#f7ee0c" stroke="#3a54a5" stroke-width="1.95"/><rect x="942.0" y="649.4" width="7.15" height="7.15" rx="0.6" fill="#f7ee0c" stroke="#3a54a5" stroke-width="1.95"/><rect x="952.9" y="642.3" width="7.15" height="7.15" rx="0.6" fill="#f7ee0c" stroke="#3a54a5" stroke-width="1.95"/><rect x="963.7" y="647.3" width="7.15" height="7.15" rx="0.6" fill="#f7ee0c" stroke="#3a54a5" stroke-width="1.95"/><rect x="972.7" y="652.9" width="7.15" height="7.15" rx="0.6" fill="#f7ee0c" stroke="#3a54a5" stroke-width="1.95"/><rect x="983.2" y="660.0" width="7.15" height="7.15" rx="0.6" fill="#f7ee0c" stroke="#3a54a5" stroke-width="1.95"/><rect x="993.8" y="660.0" width="7.15" height="7.15" rx="0.6" fill="#f7ee0c" stroke="#3a54a5" stroke-width="1.95"/><rect x="1004.7" y="667.1" width="7.15" height="7.15" rx="0.6" fill="#f7ee0c" stroke="#3a54a5" stroke-width="1.95"/><rect x="1015.5" y="663.7" width="7.15" height="7.15" rx="0.6" fill="#f7ee0c" stroke="#3a54a5" stroke-width="1.95"/><rect x="1026.4" y="658.2" width="7.15" height="7.15" rx="0.6" fill="#f7ee0c" stroke="#3a54a5" stroke-width="1.95"/><rect x="1037.0" y="681.8" width="7.15" height="7.15" rx="0.6" fill="#f7ee0c" stroke="#3a54a5" stroke-width="1.95"/><rect x="1047.9" y="676.2" width="7.15" height="7.15" rx="0.6" fill="#f7ee0c" stroke="#3a54a5" stroke-width="1.95"/><rect x="1058.7" y="670.7" width="7.15" height="7.15" rx="0.6" fill="#f7ee0c" stroke="#3a54a5" stroke-width="1.95"/><rect x="1069.3" y="672.8" width="7.15" height="7.15" rx="0.6" fill="#f7ee0c" stroke="#3a54a5" stroke-width="1.95"/><rect x="1079.9" y="668.8" width="7.15" height="7.15" rx="0.6" fill="#f7ee0c" stroke="#3a54a5" stroke-width="1.95"/><rect x="1090.8" y="667.3" width="7.15" height="7.15" rx="0.6" fill="#f7ee0c" stroke="#3a54a5" stroke-width="1.95"/><rect x="1101.6" y="663.9" width="7.15" height="7.15" rx="0.6" fill="#f7ee0c" stroke="#3a54a5" stroke-width="1.95"/><rect x="1110.3" y="670.9" width="7.15" height="7.15" rx="0.6" fill="#f7ee0c" stroke="#3a54a5" stroke-width="1.95"/><rect x="1121.1" y="670.9" width="7.15" height="7.15" rx="0.6" fill="#f7ee0c" stroke="#3a54a5" stroke-width="1.95"/><rect x="1131.9" y="679.7" width="7.15" height="7.15" rx="0.6" fill="#f7ee0c" stroke="#3a54a5" stroke-width="1.95"/><rect x="1142.8" y="667.3" width="7.15" height="7.15" rx="0.6" fill="#f7ee0c" stroke="#3a54a5" stroke-width="1.95"/><rect x="1153.6" y="665.4" width="7.15" height="7.15" rx="0.6" fill="#f7ee0c" stroke="#3a54a5" stroke-width="1.95"/><rect x="1164.1" y="668.9" width="7.15" height="7.15" rx="0.6" fill="#f7ee0c" stroke="#3a54a5" stroke-width="1.95"/><rect x="1174.9" y="674.5" width="7.15" height="7.15" rx="0.6" fill="#f7ee0c" stroke="#3a54a5" stroke-width="1.95"/><rect x="1185.8" y="674.5" width="7.15" height="7.15" rx="0.6" fill="#f7ee0c" stroke="#3a54a5" stroke-width="1.95"/><rect x="1196.4" y="676.3" width="7.15" height="7.15" rx="0.6" fill="#f7ee0c" stroke="#3a54a5" stroke-width="1.95"/><rect x="1206.9" y="677.8" width="7.15" height="7.15" rx="0.6" fill="#f7ee0c" stroke="#3a54a5" stroke-width="1.95"/><rect x="1217.8" y="674.5" width="7.15" height="7.15" rx="0.6" fill="#f7ee0c" stroke="#3a54a5" stroke-width="1.95"/><rect x="1228.6" y="674.5" width="7.15" height="7.15" rx="0.6" fill="#f7ee0c" stroke="#3a54a5" stroke-width="1.95"/><rect x="1239.2" y="668.9" width="7.15" height="7.15" rx="0.6" fill="#f7ee0c" stroke="#3a54a5" stroke-width="1.95"/><rect x="1248.2" y="674.5" width="7.15" height="7.15" rx="0.6" fill="#f7ee0c" stroke="#3a54a5" stroke-width="1.95"/><rect x="1258.8" y="686.8" width="7.15" height="7.15" rx="0.6" fill="#f7ee0c" stroke="#3a54a5" stroke-width="1.95"/><rect x="1269.9" y="685.0" width="7.15" height="7.15" rx="0.6" fill="#f7ee0c" stroke="#3a54a5" stroke-width="1.95"/><rect x="1280.5" y="686.8" width="7.15" height="7.15" rx="0.6" fill="#f7ee0c" stroke="#3a54a5" stroke-width="1.95"/><line x1="636.2" y1="439.1" x2="636.2" y2="720.6" stroke="#ec1c24" stroke-width="5.6" stroke-dasharray="24.4 18.7"/><rect x="137.3" y="459.8" width="167.7" height="69.0" fill="#fff" stroke="#262626" stroke-width="4.8"/><rect x="186.0" y="474.6" width="9.0" height="9.0" rx="1" fill="#3a54a5"/><rect x="186.9" y="506.0" width="7.15" height="7.15" rx="0.6" fill="#f7ee0c" stroke="#3a54a5" stroke-width="1.95"/><text transform="translate(241.60,488.60) scale(1,1.02)" font-size="23.7" fill="#000">East</text><text transform="translate(241.30,520.70) scale(1,1.02)" font-size="23.7" fill="#000">West</text><text transform="translate(102.60,731.80) scale(1,1.08)" font-size="26.6" fill="#323232" text-anchor="end">0</text><text transform="translate(102.60,661.80) scale(1,1.08)" font-size="26.6" fill="#323232" text-anchor="end">1</text><text transform="translate(102.60,591.90) scale(1,1.08)" font-size="26.6" fill="#323232" text-anchor="end">2</text><text transform="translate(102.60,521.70) scale(1,1.08)" font-size="26.6" fill="#323232" text-anchor="end">3</text><text transform="translate(102.60,451.90) scale(1,1.08)" font-size="26.6" fill="#323232" text-anchor="end">4</text><text transform="translate(112.20,758.20) scale(1,1.05)" font-size="26.6" fill="#323232" text-anchor="middle">04/25</text><text transform="translate(366.40,758.20) scale(1,1.05)" font-size="26.6" fill="#323232" text-anchor="middle">04/26</text><text transform="translate(620.50,758.20) scale(1,1.05)" font-size="26.6" fill="#323232" text-anchor="middle">04/27</text><text transform="translate(874.80,758.20) scale(1,1.05)" font-size="26.6" fill="#323232" text-anchor="middle">04/28</text><text transform="translate(1128.80,758.20) scale(1,1.05)" font-size="26.6" fill="#323232" text-anchor="middle">04/29</text><text transform="translate(1384.40,758.20) scale(1,1.05)" font-size="26.6" fill="#323232" text-anchor="middle">04/30</text></g>
<g><line x1="113.4" y1="1016.5" x2="1384.3" y2="1016.5" stroke="#262626" stroke-opacity="0.16" stroke-width="4.4"/><line x1="113.4" y1="923.2" x2="1384.3" y2="923.2" stroke="#262626" stroke-opacity="0.16" stroke-width="4.4"/><line x1="367.6" y1="830.2" x2="367.6" y2="1109.5" stroke="#262626" stroke-opacity="0.16" stroke-width="4.4"/><line x1="621.7" y1="830.2" x2="621.7" y2="1109.5" stroke="#262626" stroke-opacity="0.16" stroke-width="4.4"/><line x1="876.0" y1="830.2" x2="876.0" y2="1109.5" stroke="#262626" stroke-opacity="0.16" stroke-width="4.4"/><line x1="1130.0" y1="830.2" x2="1130.0" y2="1109.5" stroke="#262626" stroke-opacity="0.16" stroke-width="4.4"/><line x1="113.4" y1="1016.5" x2="128.8" y2="1016.5" stroke="#1c1c1c" stroke-width="4.5"/><line x1="1368.8999999999999" y1="1016.5" x2="1384.3" y2="1016.5" stroke="#1c1c1c" stroke-width="4.5"/><line x1="113.4" y1="923.2" x2="128.8" y2="923.2" stroke="#1c1c1c" stroke-width="4.5"/><line x1="1368.8999999999999" y1="923.2" x2="1384.3" y2="923.2" stroke="#1c1c1c" stroke-width="4.5"/><line x1="367.6" y1="830.2" x2="367.6" y2="845.6" stroke="#1c1c1c" stroke-width="4.5"/><line x1="367.6" y1="1094.1" x2="367.6" y2="1109.5" stroke="#1c1c1c" stroke-width="4.5"/><line x1="621.7" y1="830.2" x2="621.7" y2="845.6" stroke="#1c1c1c" stroke-width="4.5"/><line x1="621.7" y1="1094.1" x2="621.7" y2="1109.5" stroke="#1c1c1c" stroke-width="4.5"/><line x1="876.0" y1="830.2" x2="876.0" y2="845.6" stroke="#1c1c1c" stroke-width="4.5"/><line x1="876.0" y1="1094.1" x2="876.0" y2="1109.5" stroke="#1c1c1c" stroke-width="4.5"/><line x1="1130.0" y1="830.2" x2="1130.0" y2="845.6" stroke="#1c1c1c" stroke-width="4.5"/><line x1="1130.0" y1="1094.1" x2="1130.0" y2="1109.5" stroke="#1c1c1c" stroke-width="4.5"/><rect x="113.4" y="830.2" width="1270.9" height="279.3" fill="none" stroke="#1c1c1c" stroke-width="5.0"/><rect x="198.4" y="975.7" width="9.0" height="9.0" rx="1" fill="#3a54a5"/><rect x="209.3" y="970.5" width="9.0" height="9.0" rx="1" fill="#3a54a5"/><rect x="220.1" y="978.1" width="9.0" height="9.0" rx="1" fill="#3a54a5"/><rect x="230.7" y="972.6" width="9.0" height="9.0" rx="1" fill="#3a54a5"/><rect x="241.3" y="985.0" width="9.0" height="9.0" rx="1" fill="#3a54a5"/><rect x="252.1" y="983.1" width="9.0" height="9.0" rx="1" fill="#3a54a5"/><rect x="261.2" y="960.1" width="9.0" height="9.0" rx="1" fill="#3a54a5"/><rect x="272.0" y="976.0" width="9.0" height="9.0" rx="1" fill="#3a54a5"/><rect x="282.7" y="958.8" width="9.0" height="9.0" rx="1" fill="#3a54a5"/><rect x="293.3" y="963.0" width="9.0" height="9.0" rx="1" fill="#3a54a5"/><rect x="304.2" y="961.9" width="9.0" height="9.0" rx="1" fill="#3a54a5"/><rect x="315.1" y="957.7" width="9.0" height="9.0" rx="1" fill="#3a54a5"/><rect x="325.7" y="970.9" width="9.0" height="9.0" rx="1" fill="#3a54a5"/><rect x="336.3" y="964.1" width="9.0" height="9.0" rx="1" fill="#3a54a5"/><rect x="346.9" y="979.7" width="9.0" height="9.0" rx="1" fill="#3a54a5"/><rect x="357.8" y="992.1" width="9.0" height="9.0" rx="1" fill="#3a54a5"/><rect x="368.6" y="970.4" width="9.0" height="9.0" rx="1" fill="#3a54a5"/><rect x="379.2" y="970.7" width="9.0" height="9.0" rx="1" fill="#3a54a5"/><rect x="390.0" y="963.0" width="9.0" height="9.0" rx="1" fill="#3a54a5"/><rect x="399.1" y="959.6" width="9.0" height="9.0" rx="1" fill="#3a54a5"/><rect x="409.8" y="957.5" width="9.0" height="9.0" rx="1" fill="#3a54a5"/><rect x="420.4" y="960.1" width="9.0" height="9.0" rx="1" fill="#3a54a5"/><rect x="431.0" y="959.6" width="9.0" height="9.0" rx="1" fill="#3a54a5"/><rect x="441.8" y="963.5" width="9.0" height="9.0" rx="1" fill="#3a54a5"/><rect x="452.7" y="958.3" width="9.0" height="9.0" rx="1" fill="#3a54a5"/><rect x="463.3" y="962.0" width="9.0" height="9.0" rx="1" fill="#3a54a5"/><rect x="474.2" y="970.9" width="9.0" height="9.0" rx="1" fill="#3a54a5"/><rect x="485.0" y="958.2" width="9.0" height="9.0" rx="1" fill="#3a54a5"/><rect x="495.6" y="954.8" width="9.0" height="9.0" rx="1" fill="#3a54a5"/><rect x="506.2" y="958.2" width="9.0" height="9.0" rx="1" fill="#3a54a5"/><rect x="517.0" y="956.4" width="9.0" height="9.0" rx="1" fill="#3a54a5"/><rect x="527.8" y="961.4" width="9.0" height="9.0" rx="1" fill="#3a54a5"/><rect x="538.5" y="957.7" width="9.0" height="9.0" rx="1" fill="#3a54a5"/><rect x="547.5" y="958.2" width="9.0" height="9.0" rx="1" fill="#3a54a5"/><rect x="558.3" y="1037.1" width="9.0" height="9.0" rx="1" fill="#3a54a5"/><rect x="568.9" y="1019.1" width="9.0" height="9.0" rx="1" fill="#3a54a5"/><rect x="580.0" y="1004.6" width="9.0" height="9.0" rx="1" fill="#3a54a5"/><rect x="590.6" y="999.3" width="9.0" height="9.0" rx="1" fill="#3a54a5"/><rect x="601.4" y="994.0" width="9.0" height="9.0" rx="1" fill="#3a54a5"/><rect x="611.9" y="986.8" width="9.0" height="9.0" rx="1" fill="#3a54a5"/><rect x="622.7" y="985.7" width="9.0" height="9.0" rx="1" fill="#3a54a5"/><rect x="633.5" y="973.5" width="9.0" height="9.0" rx="1" fill="#3a54a5"/><rect x="644.1" y="974.6" width="9.0" height="9.0" rx="1" fill="#3a54a5"/><rect x="654.9" y="973.5" width="9.0" height="9.0" rx="1" fill="#3a54a5"/><rect x="665.6" y="977.7" width="9.0" height="9.0" rx="1" fill="#3a54a5"/><rect x="676.4" y="973.5" width="9.0" height="9.0" rx="1" fill="#3a54a5"/><rect x="685.4" y="986.8" width="9.0" height="9.0" rx="1" fill="#3a54a5"/><rect x="695.9" y="972.0" width="9.0" height="9.0" rx="1" fill="#3a54a5"/><rect x="706.8" y="970.5" width="9.0" height="9.0" rx="1" fill="#3a54a5"/><rect x="717.6" y="967.2" width="9.0" height="9.0" rx="1" fill="#3a54a5"/><rect x="728.2" y="970.4" width="9.0" height="9.0" rx="1" fill="#3a54a5"/><rect x="739.0" y="960.1" width="9.0" height="9.0" rx="1" fill="#3a54a5"/><rect x="749.9" y="960.1" width="9.0" height="9.0" rx="1" fill="#3a54a5"/><rect x="760.6" y="965.1" width="9.0" height="9.0" rx="1" fill="#3a54a5"/><rect x="771.2" y="958.5" width="9.0" height="9.0" rx="1" fill="#3a54a5"/><rect x="782.0" y="960.0" width="9.0" height="9.0" rx="1" fill="#3a54a5"/><rect x="792.7" y="959.4" width="9.0" height="9.0" rx="1" fill="#3a54a5"/><rect x="803.4" y="962.2" width="9.0" height="9.0" rx="1" fill="#3a54a5"/><rect x="814.2" y="964.1" width="9.0" height="9.0" rx="1" fill="#3a54a5"/><rect x="823.2" y="961.9" width="9.0" height="9.0" rx="1" fill="#3a54a5"/><rect x="833.8" y="965.5" width="9.0" height="9.0" rx="1" fill="#3a54a5"/><rect x="844.7" y="966.8" width="9.0" height="9.0" rx="1" fill="#3a54a5"/><rect x="855.5" y="966.8" width="9.0" height="9.0" rx="1" fill="#3a54a5"/><rect x="866.2" y="965.6" width="9.0" height="9.0" rx="1" fill="#3a54a5"/><rect x="877.0" y="966.5" width="9.0" height="9.0" rx="1" fill="#3a54a5"/><rect x="887.7" y="965.5" width="9.0" height="9.0" rx="1" fill="#3a54a5"/><rect x="898.2" y="968.4" width="9.0" height="9.0" rx="1" fill="#3a54a5"/><rect x="909.1" y="967.3" width="9.0" height="9.0" rx="1" fill="#3a54a5"/><rect x="919.9" y="963.6" width="9.0" height="9.0" rx="1" fill="#3a54a5"/><rect x="930.5" y="956.4" width="9.0" height="9.0" rx="1" fill="#3a54a5"/><rect x="941.3" y="957.8" width="9.0" height="9.0" rx="1" fill="#3a54a5"/><rect x="952.0" y="958.3" width="9.0" height="9.0" rx="1" fill="#3a54a5"/><rect x="962.8" y="954.9" width="9.0" height="9.0" rx="1" fill="#3a54a5"/><rect x="971.8" y="949.0" width="9.0" height="9.0" rx="1" fill="#3a54a5"/><rect x="982.3" y="956.4" width="9.0" height="9.0" rx="1" fill="#3a54a5"/><rect x="993.1" y="949.0" width="9.0" height="9.0" rx="1" fill="#3a54a5"/><rect x="1003.8" y="963.3" width="9.0" height="9.0" rx="1" fill="#3a54a5"/><rect x="1014.6" y="947.5" width="9.0" height="9.0" rx="1" fill="#3a54a5"/><rect x="1024.1" y="949.0" width="9.0" height="9.0" rx="1" fill="#3a54a5"/><rect x="1036.1" y="947.5" width="9.0" height="9.0" rx="1" fill="#3a54a5"/><rect x="1047.0" y="954.6" width="9.0" height="9.0" rx="1" fill="#3a54a5"/><rect x="1057.8" y="954.3" width="9.0" height="9.0" rx="1" fill="#3a54a5"/><rect x="1068.4" y="952.8" width="9.0" height="9.0" rx="1" fill="#3a54a5"/><rect x="1079.0" y="954.3" width="9.0" height="9.0" rx="1" fill="#3a54a5"/><rect x="1089.9" y="957.8" width="9.0" height="9.0" rx="1" fill="#3a54a5"/><rect x="1100.7" y="951.2" width="9.0" height="9.0" rx="1" fill="#3a54a5"/><rect x="1109.4" y="954.3" width="9.0" height="9.0" rx="1" fill="#3a54a5"/><rect x="1120.2" y="954.9" width="9.0" height="9.0" rx="1" fill="#3a54a5"/><rect x="1131.0" y="956.4" width="9.0" height="9.0" rx="1" fill="#3a54a5"/><rect x="1141.7" y="958.3" width="9.0" height="9.0" rx="1" fill="#3a54a5"/><rect x="1152.7" y="957.0" width="9.0" height="9.0" rx="1" fill="#3a54a5"/><rect x="1163.2" y="959.4" width="9.0" height="9.0" rx="1" fill="#3a54a5"/><rect x="1174.0" y="959.4" width="9.0" height="9.0" rx="1" fill="#3a54a5"/><rect x="1184.9" y="963.9" width="9.0" height="9.0" rx="1" fill="#3a54a5"/><rect x="1195.5" y="957.4" width="9.0" height="9.0" rx="1" fill="#3a54a5"/><rect x="1206.3" y="956.4" width="9.0" height="9.0" rx="1" fill="#3a54a5"/><rect x="1216.9" y="961.5" width="9.0" height="9.0" rx="1" fill="#3a54a5"/><rect x="1227.7" y="964.9" width="9.0" height="9.0" rx="1" fill="#3a54a5"/><rect x="1238.3" y="963.9" width="9.0" height="9.0" rx="1" fill="#3a54a5"/><rect x="1247.3" y="968.6" width="9.0" height="9.0" rx="1" fill="#3a54a5"/><rect x="1257.9" y="970.4" width="9.0" height="9.0" rx="1" fill="#3a54a5"/><rect x="1269.0" y="958.2" width="9.0" height="9.0" rx="1" fill="#3a54a5"/><rect x="1279.6" y="972.3" width="9.0" height="9.0" rx="1" fill="#3a54a5"/><rect x="199.3" y="971.8" width="7.15" height="7.15" rx="0.6" fill="#f7ee0c" stroke="#3a54a5" stroke-width="1.95"/><rect x="210.2" y="968.2" width="7.15" height="7.15" rx="0.6" fill="#f7ee0c" stroke="#3a54a5" stroke-width="1.95"/><rect x="221.0" y="979.0" width="7.15" height="7.15" rx="0.6" fill="#f7ee0c" stroke="#3a54a5" stroke-width="1.95"/><rect x="231.6" y="979.0" width="7.15" height="7.15" rx="0.6" fill="#f7ee0c" stroke="#3a54a5" stroke-width="1.95"/><rect x="242.2" y="985.9" width="7.15" height="7.15" rx="0.6" fill="#f7ee0c" stroke="#3a54a5" stroke-width="1.95"/><rect x="253.0" y="971.6" width="7.15" height="7.15" rx="0.6" fill="#f7ee0c" stroke="#3a54a5" stroke-width="1.95"/><rect x="262.1" y="961.0" width="7.15" height="7.15" rx="0.6" fill="#f7ee0c" stroke="#3a54a5" stroke-width="1.95"/><rect x="272.9" y="957.3" width="7.15" height="7.15" rx="0.6" fill="#f7ee0c" stroke="#3a54a5" stroke-width="1.95"/><rect x="283.6" y="964.7" width="7.15" height="7.15" rx="0.6" fill="#f7ee0c" stroke="#3a54a5" stroke-width="1.95"/><rect x="294.2" y="957.3" width="7.15" height="7.15" rx="0.6" fill="#f7ee0c" stroke="#3a54a5" stroke-width="1.95"/><rect x="305.1" y="952.0" width="7.15" height="7.15" rx="0.6" fill="#f7ee0c" stroke="#3a54a5" stroke-width="1.95"/><rect x="316.0" y="955.7" width="7.15" height="7.15" rx="0.6" fill="#f7ee0c" stroke="#3a54a5" stroke-width="1.95"/><rect x="326.6" y="971.8" width="7.15" height="7.15" rx="0.6" fill="#f7ee0c" stroke="#3a54a5" stroke-width="1.95"/><rect x="337.2" y="970.0" width="7.15" height="7.15" rx="0.6" fill="#f7ee0c" stroke="#3a54a5" stroke-width="1.95"/><rect x="347.8" y="980.6" width="7.15" height="7.15" rx="0.6" fill="#f7ee0c" stroke="#3a54a5" stroke-width="1.95"/><rect x="358.7" y="980.6" width="7.15" height="7.15" rx="0.6" fill="#f7ee0c" stroke="#3a54a5" stroke-width="1.95"/><rect x="369.5" y="966.3" width="7.15" height="7.15" rx="0.6" fill="#f7ee0c" stroke="#3a54a5" stroke-width="1.95"/><rect x="380.1" y="971.6" width="7.15" height="7.15" rx="0.6" fill="#f7ee0c" stroke="#3a54a5" stroke-width="1.95"/><rect x="390.9" y="962.9" width="7.15" height="7.15" rx="0.6" fill="#f7ee0c" stroke="#3a54a5" stroke-width="1.95"/><rect x="400.0" y="955.7" width="7.15" height="7.15" rx="0.6" fill="#f7ee0c" stroke="#3a54a5" stroke-width="1.95"/><rect x="410.7" y="955.7" width="7.15" height="7.15" rx="0.6" fill="#f7ee0c" stroke="#3a54a5" stroke-width="1.95"/><rect x="421.3" y="961.0" width="7.15" height="7.15" rx="0.6" fill="#f7ee0c" stroke="#3a54a5" stroke-width="1.95"/><rect x="431.9" y="953.8" width="7.15" height="7.15" rx="0.6" fill="#f7ee0c" stroke="#3a54a5" stroke-width="1.95"/><rect x="442.7" y="952.0" width="7.15" height="7.15" rx="0.6" fill="#f7ee0c" stroke="#3a54a5" stroke-width="1.95"/><rect x="453.6" y="962.9" width="7.15" height="7.15" rx="0.6" fill="#f7ee0c" stroke="#3a54a5" stroke-width="1.95"/><rect x="464.2" y="962.9" width="7.15" height="7.15" rx="0.6" fill="#f7ee0c" stroke="#3a54a5" stroke-width="1.95"/><rect x="475.1" y="959.1" width="7.15" height="7.15" rx="0.6" fill="#f7ee0c" stroke="#3a54a5" stroke-width="1.95"/><rect x="485.9" y="971.8" width="7.15" height="7.15" rx="0.6" fill="#f7ee0c" stroke="#3a54a5" stroke-width="1.95"/><rect x="496.5" y="955.7" width="7.15" height="7.15" rx="0.6" fill="#f7ee0c" stroke="#3a54a5" stroke-width="1.95"/><rect x="507.1" y="944.9" width="7.15" height="7.15" rx="0.6" fill="#f7ee0c" stroke="#3a54a5" stroke-width="1.95"/><rect x="517.9" y="946.7" width="7.15" height="7.15" rx="0.6" fill="#f7ee0c" stroke="#3a54a5" stroke-width="1.95"/><rect x="528.7" y="959.1" width="7.15" height="7.15" rx="0.6" fill="#f7ee0c" stroke="#3a54a5" stroke-width="1.95"/><rect x="539.4" y="955.7" width="7.15" height="7.15" rx="0.6" fill="#f7ee0c" stroke="#3a54a5" stroke-width="1.95"/><rect x="548.4" y="1007.4" width="7.15" height="7.15" rx="0.6" fill="#f7ee0c" stroke="#3a54a5" stroke-width="1.95"/><rect x="559.2" y="1038.0" width="7.15" height="7.15" rx="0.6" fill="#f7ee0c" stroke="#3a54a5" stroke-width="1.95"/><rect x="569.8" y="1027.1" width="7.15" height="7.15" rx="0.6" fill="#f7ee0c" stroke="#3a54a5" stroke-width="1.95"/><rect x="580.9" y="1005.5" width="7.15" height="7.15" rx="0.6" fill="#f7ee0c" stroke="#3a54a5" stroke-width="1.95"/><rect x="591.5" y="1000.2" width="7.15" height="7.15" rx="0.6" fill="#f7ee0c" stroke="#3a54a5" stroke-width="1.95"/><rect x="602.3" y="994.9" width="7.15" height="7.15" rx="0.6" fill="#f7ee0c" stroke="#3a54a5" stroke-width="1.95"/><rect x="612.8" y="987.7" width="7.15" height="7.15" rx="0.6" fill="#f7ee0c" stroke="#3a54a5" stroke-width="1.95"/><rect x="623.6" y="989.5" width="7.15" height="7.15" rx="0.6" fill="#f7ee0c" stroke="#3a54a5" stroke-width="1.95"/><rect x="634.4" y="977.4" width="7.15" height="7.15" rx="0.6" fill="#f7ee0c" stroke="#3a54a5" stroke-width="1.95"/><rect x="645.0" y="980.8" width="7.15" height="7.15" rx="0.6" fill="#f7ee0c" stroke="#3a54a5" stroke-width="1.95"/><rect x="655.8" y="971.9" width="7.15" height="7.15" rx="0.6" fill="#f7ee0c" stroke="#3a54a5" stroke-width="1.95"/><rect x="666.5" y="978.6" width="7.15" height="7.15" rx="0.6" fill="#f7ee0c" stroke="#3a54a5" stroke-width="1.95"/><rect x="677.3" y="971.9" width="7.15" height="7.15" rx="0.6" fill="#f7ee0c" stroke="#3a54a5" stroke-width="1.95"/><rect x="686.3" y="973.7" width="7.15" height="7.15" rx="0.6" fill="#f7ee0c" stroke="#3a54a5" stroke-width="1.95"/><rect x="696.8" y="969.8" width="7.15" height="7.15" rx="0.6" fill="#f7ee0c" stroke="#3a54a5" stroke-width="1.95"/><rect x="707.7" y="969.8" width="7.15" height="7.15" rx="0.6" fill="#f7ee0c" stroke="#3a54a5" stroke-width="1.95"/><rect x="718.5" y="968.1" width="7.15" height="7.15" rx="0.6" fill="#f7ee0c" stroke="#3a54a5" stroke-width="1.95"/><rect x="729.1" y="966.3" width="7.15" height="7.15" rx="0.6" fill="#f7ee0c" stroke="#3a54a5" stroke-width="1.95"/><rect x="739.9" y="961.0" width="7.15" height="7.15" rx="0.6" fill="#f7ee0c" stroke="#3a54a5" stroke-width="1.95"/><rect x="750.8" y="961.0" width="7.15" height="7.15" rx="0.6" fill="#f7ee0c" stroke="#3a54a5" stroke-width="1.95"/><rect x="761.5" y="962.8" width="7.15" height="7.15" rx="0.6" fill="#f7ee0c" stroke="#3a54a5" stroke-width="1.95"/><rect x="772.1" y="962.8" width="7.15" height="7.15" rx="0.6" fill="#f7ee0c" stroke="#3a54a5" stroke-width="1.95"/><rect x="782.9" y="960.9" width="7.15" height="7.15" rx="0.6" fill="#f7ee0c" stroke="#3a54a5" stroke-width="1.95"/><rect x="793.6" y="957.3" width="7.15" height="7.15" rx="0.6" fill="#f7ee0c" stroke="#3a54a5" stroke-width="1.95"/><rect x="804.3" y="966.2" width="7.15" height="7.15" rx="0.6" fill="#f7ee0c" stroke="#3a54a5" stroke-width="1.95"/><rect x="815.1" y="968.1" width="7.15" height="7.15" rx="0.6" fill="#f7ee0c" stroke="#3a54a5" stroke-width="1.95"/><rect x="824.1" y="962.8" width="7.15" height="7.15" rx="0.6" fill="#f7ee0c" stroke="#3a54a5" stroke-width="1.95"/><rect x="834.7" y="964.8" width="7.15" height="7.15" rx="0.6" fill="#f7ee0c" stroke="#3a54a5" stroke-width="1.95"/><rect x="845.6" y="964.8" width="7.15" height="7.15" rx="0.6" fill="#f7ee0c" stroke="#3a54a5" stroke-width="1.95"/><rect x="856.4" y="964.8" width="7.15" height="7.15" rx="0.6" fill="#f7ee0c" stroke="#3a54a5" stroke-width="1.95"/><rect x="867.1" y="966.5" width="7.15" height="7.15" rx="0.6" fill="#f7ee0c" stroke="#3a54a5" stroke-width="1.95"/><rect x="877.9" y="960.9" width="7.15" height="7.15" rx="0.6" fill="#f7ee0c" stroke="#3a54a5" stroke-width="1.95"/><rect x="888.6" y="966.4" width="7.15" height="7.15" rx="0.6" fill="#f7ee0c" stroke="#3a54a5" stroke-width="1.95"/><rect x="899.1" y="962.9" width="7.15" height="7.15" rx="0.6" fill="#f7ee0c" stroke="#3a54a5" stroke-width="1.95"/><rect x="910.0" y="968.2" width="7.15" height="7.15" rx="0.6" fill="#f7ee0c" stroke="#3a54a5" stroke-width="1.95"/><rect x="920.8" y="964.5" width="7.15" height="7.15" rx="0.6" fill="#f7ee0c" stroke="#3a54a5" stroke-width="1.95"/><rect x="931.4" y="957.3" width="7.15" height="7.15" rx="0.6" fill="#f7ee0c" stroke="#3a54a5" stroke-width="1.95"/><rect x="942.2" y="950.2" width="7.15" height="7.15" rx="0.6" fill="#f7ee0c" stroke="#3a54a5" stroke-width="1.95"/><rect x="952.9" y="948.4" width="7.15" height="7.15" rx="0.6" fill="#f7ee0c" stroke="#3a54a5" stroke-width="1.95"/><rect x="963.7" y="955.8" width="7.15" height="7.15" rx="0.6" fill="#f7ee0c" stroke="#3a54a5" stroke-width="1.95"/><rect x="972.7" y="946.7" width="7.15" height="7.15" rx="0.6" fill="#f7ee0c" stroke="#3a54a5" stroke-width="1.95"/><rect x="983.2" y="957.3" width="7.15" height="7.15" rx="0.6" fill="#f7ee0c" stroke="#3a54a5" stroke-width="1.95"/><rect x="994.0" y="944.9" width="7.15" height="7.15" rx="0.6" fill="#f7ee0c" stroke="#3a54a5" stroke-width="1.95"/><rect x="1004.7" y="961.1" width="7.15" height="7.15" rx="0.6" fill="#f7ee0c" stroke="#3a54a5" stroke-width="1.95"/><rect x="1015.5" y="948.4" width="7.15" height="7.15" rx="0.6" fill="#f7ee0c" stroke="#3a54a5" stroke-width="1.95"/><rect x="1025.0" y="944.9" width="7.15" height="7.15" rx="0.6" fill="#f7ee0c" stroke="#3a54a5" stroke-width="1.95"/><rect x="1037.0" y="948.4" width="7.15" height="7.15" rx="0.6" fill="#f7ee0c" stroke="#3a54a5" stroke-width="1.95"/><rect x="1047.9" y="955.5" width="7.15" height="7.15" rx="0.6" fill="#f7ee0c" stroke="#3a54a5" stroke-width="1.95"/><rect x="1058.7" y="951.8" width="7.15" height="7.15" rx="0.6" fill="#f7ee0c" stroke="#3a54a5" stroke-width="1.95"/><rect x="1069.3" y="953.7" width="7.15" height="7.15" rx="0.6" fill="#f7ee0c" stroke="#3a54a5" stroke-width="1.95"/><rect x="1079.9" y="948.4" width="7.15" height="7.15" rx="0.6" fill="#f7ee0c" stroke="#3a54a5" stroke-width="1.95"/><rect x="1090.8" y="955.8" width="7.15" height="7.15" rx="0.6" fill="#f7ee0c" stroke="#3a54a5" stroke-width="1.95"/><rect x="1101.6" y="953.7" width="7.15" height="7.15" rx="0.6" fill="#f7ee0c" stroke="#3a54a5" stroke-width="1.95"/><rect x="1110.3" y="953.7" width="7.15" height="7.15" rx="0.6" fill="#f7ee0c" stroke="#3a54a5" stroke-width="1.95"/><rect x="1121.1" y="957.3" width="7.15" height="7.15" rx="0.6" fill="#f7ee0c" stroke="#3a54a5" stroke-width="1.95"/><rect x="1131.9" y="957.3" width="7.15" height="7.15" rx="0.6" fill="#f7ee0c" stroke="#3a54a5" stroke-width="1.95"/><rect x="1142.6" y="959.2" width="7.15" height="7.15" rx="0.6" fill="#f7ee0c" stroke="#3a54a5" stroke-width="1.95"/><rect x="1153.6" y="960.8" width="7.15" height="7.15" rx="0.6" fill="#f7ee0c" stroke="#3a54a5" stroke-width="1.95"/><rect x="1164.1" y="955.7" width="7.15" height="7.15" rx="0.6" fill="#f7ee0c" stroke="#3a54a5" stroke-width="1.95"/><rect x="1174.9" y="957.3" width="7.15" height="7.15" rx="0.6" fill="#f7ee0c" stroke="#3a54a5" stroke-width="1.95"/><rect x="1185.8" y="952.1" width="7.15" height="7.15" rx="0.6" fill="#f7ee0c" stroke="#3a54a5" stroke-width="1.95"/><rect x="1196.4" y="952.1" width="7.15" height="7.15" rx="0.6" fill="#f7ee0c" stroke="#3a54a5" stroke-width="1.95"/><rect x="1207.2" y="957.3" width="7.15" height="7.15" rx="0.6" fill="#f7ee0c" stroke="#3a54a5" stroke-width="1.95"/><rect x="1217.8" y="959.1" width="7.15" height="7.15" rx="0.6" fill="#f7ee0c" stroke="#3a54a5" stroke-width="1.95"/><rect x="1228.6" y="962.8" width="7.15" height="7.15" rx="0.6" fill="#f7ee0c" stroke="#3a54a5" stroke-width="1.95"/><rect x="1239.2" y="964.8" width="7.15" height="7.15" rx="0.6" fill="#f7ee0c" stroke="#3a54a5" stroke-width="1.95"/><rect x="1248.2" y="964.8" width="7.15" height="7.15" rx="0.6" fill="#f7ee0c" stroke="#3a54a5" stroke-width="1.95"/><rect x="1258.8" y="962.8" width="7.15" height="7.15" rx="0.6" fill="#f7ee0c" stroke="#3a54a5" stroke-width="1.95"/><rect x="1269.9" y="959.1" width="7.15" height="7.15" rx="0.6" fill="#f7ee0c" stroke="#3a54a5" stroke-width="1.95"/><rect x="1280.5" y="970.0" width="7.15" height="7.15" rx="0.6" fill="#f7ee0c" stroke="#3a54a5" stroke-width="1.95"/><line x1="636.2" y1="828.6" x2="636.2" y2="1111.0" stroke="#ec1c24" stroke-width="5.6" stroke-dasharray="24.4 18.7"/><rect x="137.3" y="848.3" width="167.7" height="69.3" fill="#fff" stroke="#262626" stroke-width="4.8"/><rect x="186.0" y="863.1" width="9.0" height="9.0" rx="1" fill="#3a54a5"/><rect x="186.9" y="894.5" width="7.15" height="7.15" rx="0.6" fill="#f7ee0c" stroke="#3a54a5" stroke-width="1.95"/><text transform="translate(241.60,877.10) scale(1,1.02)" font-size="23.7" fill="#000">East</text><text transform="translate(241.30,909.20) scale(1,1.02)" font-size="23.7" fill="#000">West</text><text transform="translate(102.60,1120.90) scale(1,1.08)" font-size="26.6" fill="#323232" text-anchor="end">0</text><text transform="translate(102.60,1027.40) scale(1,1.08)" font-size="26.6" fill="#323232" text-anchor="end">5</text><text transform="translate(102.60,934.10) scale(1,1.08)" font-size="26.6" fill="#323232" text-anchor="end">10</text><text transform="translate(102.60,840.70) scale(1,1.08)" font-size="26.6" fill="#323232" text-anchor="end">15</text><text transform="translate(112.20,1148.40) scale(1,1.05)" font-size="26.6" fill="#323232" text-anchor="middle">04/25</text><text transform="translate(366.40,1148.40) scale(1,1.05)" font-size="26.6" fill="#323232" text-anchor="middle">04/26</text><text transform="translate(620.50,1148.40) scale(1,1.05)" font-size="26.6" fill="#323232" text-anchor="middle">04/27</text><text transform="translate(874.80,1148.40) scale(1,1.05)" font-size="26.6" fill="#323232" text-anchor="middle">04/28</text><text transform="translate(1128.80,1148.40) scale(1,1.05)" font-size="26.6" fill="#323232" text-anchor="middle">04/29</text><text transform="translate(1384.40,1148.40) scale(1,1.05)" font-size="26.6" fill="#323232" text-anchor="middle">04/30</text></g>
<g><line x1="113.4" y1="1420.2" x2="1384.3" y2="1420.2" stroke="#262626" stroke-opacity="0.16" stroke-width="4.4"/><line x1="113.4" y1="1342.7" x2="1384.3" y2="1342.7" stroke="#262626" stroke-opacity="0.16" stroke-width="4.4"/><line x1="113.4" y1="1265.2" x2="1384.3" y2="1265.2" stroke="#262626" stroke-opacity="0.16" stroke-width="4.4"/><line x1="367.6" y1="1218.7" x2="367.6" y2="1497.5" stroke="#262626" stroke-opacity="0.16" stroke-width="4.4"/><line x1="621.7" y1="1218.7" x2="621.7" y2="1497.5" stroke="#262626" stroke-opacity="0.16" stroke-width="4.4"/><line x1="876.0" y1="1218.7" x2="876.0" y2="1497.5" stroke="#262626" stroke-opacity="0.16" stroke-width="4.4"/><line x1="1130.0" y1="1218.7" x2="1130.0" y2="1497.5" stroke="#262626" stroke-opacity="0.16" stroke-width="4.4"/><line x1="113.4" y1="1420.2" x2="128.8" y2="1420.2" stroke="#262626" stroke-width="4.5"/><line x1="1368.8999999999999" y1="1420.2" x2="1384.3" y2="1420.2" stroke="#262626" stroke-width="4.5"/><line x1="113.4" y1="1342.7" x2="128.8" y2="1342.7" stroke="#262626" stroke-width="4.5"/><line x1="1368.8999999999999" y1="1342.7" x2="1384.3" y2="1342.7" stroke="#262626" stroke-width="4.5"/><line x1="113.4" y1="1265.2" x2="128.8" y2="1265.2" stroke="#262626" stroke-width="4.5"/><line x1="1368.8999999999999" y1="1265.2" x2="1384.3" y2="1265.2" stroke="#262626" stroke-width="4.5"/><line x1="367.6" y1="1218.7" x2="367.6" y2="1234.1000000000001" stroke="#262626" stroke-width="4.5"/><line x1="367.6" y1="1482.0" x2="367.6" y2="1497.5" stroke="#262626" stroke-width="4.5"/><line x1="621.7" y1="1218.7" x2="621.7" y2="1234.1000000000001" stroke="#262626" stroke-width="4.5"/><line x1="621.7" y1="1482.0" x2="621.7" y2="1497.5" stroke="#262626" stroke-width="4.5"/><line x1="876.0" y1="1218.7" x2="876.0" y2="1234.1000000000001" stroke="#262626" stroke-width="4.5"/><line x1="876.0" y1="1482.0" x2="876.0" y2="1497.5" stroke="#262626" stroke-width="4.5"/><line x1="1130.0" y1="1218.7" x2="1130.0" y2="1234.1000000000001" stroke="#262626" stroke-width="4.5"/><line x1="1130.0" y1="1482.0" x2="1130.0" y2="1497.5" stroke="#262626" stroke-width="4.5"/><rect x="113.4" y="1218.7" width="1270.9" height="278.8" fill="none" stroke="#262626" stroke-width="4.6"/><rect x="198.4" y="1407.6" width="9.0" height="9.0" rx="1" fill="#3a54a5"/><rect x="209.3" y="1409.3" width="9.0" height="9.0" rx="1" fill="#3a54a5"/><rect x="220.1" y="1411.1" width="9.0" height="9.0" rx="1" fill="#3a54a5"/><rect x="230.7" y="1416.1" width="9.0" height="9.0" rx="1" fill="#3a54a5"/><rect x="241.3" y="1414.4" width="9.0" height="9.0" rx="1" fill="#3a54a5"/><rect x="252.1" y="1412.9" width="9.0" height="9.0" rx="1" fill="#3a54a5"/><rect x="261.2" y="1421.4" width="9.0" height="9.0" rx="1" fill="#3a54a5"/><rect x="272.0" y="1404.3" width="9.0" height="9.0" rx="1" fill="#3a54a5"/><rect x="282.7" y="1414.8" width="9.0" height="9.0" rx="1" fill="#3a54a5"/><rect x="293.3" y="1410.6" width="9.0" height="9.0" rx="1" fill="#3a54a5"/><rect x="304.2" y="1416.4" width="9.0" height="9.0" rx="1" fill="#3a54a5"/><rect x="314.8" y="1414.8" width="9.0" height="9.0" rx="1" fill="#3a54a5"/><rect x="325.7" y="1409.3" width="9.0" height="9.0" rx="1" fill="#3a54a5"/><rect x="336.3" y="1410.9" width="9.0" height="9.0" rx="1" fill="#3a54a5"/><rect x="346.9" y="1409.3" width="9.0" height="9.0" rx="1" fill="#3a54a5"/><rect x="357.8" y="1399.0" width="9.0" height="9.0" rx="1" fill="#3a54a5"/><rect x="368.6" y="1409.9" width="9.0" height="9.0" rx="1" fill="#3a54a5"/><rect x="379.2" y="1411.5" width="9.0" height="9.0" rx="1" fill="#3a54a5"/><rect x="390.0" y="1407.5" width="9.0" height="9.0" rx="1" fill="#3a54a5"/><rect x="398.7" y="1421.2" width="9.0" height="9.0" rx="1" fill="#3a54a5"/><rect x="409.8" y="1415.9" width="9.0" height="9.0" rx="1" fill="#3a54a5"/><rect x="420.4" y="1412.5" width="9.0" height="9.0" rx="1" fill="#3a54a5"/><rect x="431.2" y="1403.7" width="9.0" height="9.0" rx="1" fill="#3a54a5"/><rect x="441.8" y="1408.0" width="9.0" height="9.0" rx="1" fill="#3a54a5"/><rect x="452.7" y="1405.8" width="9.0" height="9.0" rx="1" fill="#3a54a5"/><rect x="463.3" y="1409.6" width="9.0" height="9.0" rx="1" fill="#3a54a5"/><rect x="474.2" y="1401.8" width="9.0" height="9.0" rx="1" fill="#3a54a5"/><rect x="485.0" y="1409.1" width="9.0" height="9.0" rx="1" fill="#3a54a5"/><rect x="495.6" y="1414.6" width="9.0" height="9.0" rx="1" fill="#3a54a5"/><rect x="506.2" y="1417.3" width="9.0" height="9.0" rx="1" fill="#3a54a5"/><rect x="517.0" y="1419.4" width="9.0" height="9.0" rx="1" fill="#3a54a5"/><rect x="527.6" y="1409.9" width="9.0" height="9.0" rx="1" fill="#3a54a5"/><rect x="538.5" y="1419.9" width="9.0" height="9.0" rx="1" fill="#3a54a5"/><rect x="547.5" y="1412.8" width="9.0" height="9.0" rx="1" fill="#3a54a5"/><rect x="558.1" y="1403.5" width="9.0" height="9.0" rx="1" fill="#3a54a5"/><rect x="568.9" y="1401.7" width="9.0" height="9.0" rx="1" fill="#3a54a5"/><rect x="580.0" y="1400.4" width="9.0" height="9.0" rx="1" fill="#3a54a5"/><rect x="590.6" y="1405.7" width="9.0" height="9.0" rx="1" fill="#3a54a5"/><rect x="601.4" y="1405.7" width="9.0" height="9.0" rx="1" fill="#3a54a5"/><rect x="612.0" y="1409.2" width="9.0" height="9.0" rx="1" fill="#3a54a5"/><rect x="622.7" y="1411.5" width="9.0" height="9.0" rx="1" fill="#3a54a5"/><rect x="633.5" y="1404.3" width="9.0" height="9.0" rx="1" fill="#3a54a5"/><rect x="644.1" y="1412.7" width="9.0" height="9.0" rx="1" fill="#3a54a5"/><rect x="654.9" y="1414.8" width="9.0" height="9.0" rx="1" fill="#3a54a5"/><rect x="665.6" y="1416.4" width="9.0" height="9.0" rx="1" fill="#3a54a5"/><rect x="676.4" y="1414.4" width="9.0" height="9.0" rx="1" fill="#3a54a5"/><rect x="685.4" y="1412.7" width="9.0" height="9.0" rx="1" fill="#3a54a5"/><rect x="695.9" y="1416.1" width="9.0" height="9.0" rx="1" fill="#3a54a5"/><rect x="706.8" y="1410.9" width="9.0" height="9.0" rx="1" fill="#3a54a5"/><rect x="717.6" y="1409.3" width="9.0" height="9.0" rx="1" fill="#3a54a5"/><rect x="728.2" y="1412.5" width="9.0" height="9.0" rx="1" fill="#3a54a5"/><rect x="739.0" y="1419.6" width="9.0" height="9.0" rx="1" fill="#3a54a5"/><rect x="749.9" y="1417.7" width="9.0" height="9.0" rx="1" fill="#3a54a5"/><rect x="760.6" y="1414.8" width="9.0" height="9.0" rx="1" fill="#3a54a5"/><rect x="771.2" y="1417.5" width="9.0" height="9.0" rx="1" fill="#3a54a5"/><rect x="782.0" y="1416.4" width="9.0" height="9.0" rx="1" fill="#3a54a5"/><rect x="792.7" y="1416.4" width="9.0" height="9.0" rx="1" fill="#3a54a5"/><rect x="803.4" y="1417.7" width="9.0" height="9.0" rx="1" fill="#3a54a5"/><rect x="814.2" y="1417.5" width="9.0" height="9.0" rx="1" fill="#3a54a5"/><rect x="823.2" y="1414.5" width="9.0" height="9.0" rx="1" fill="#3a54a5"/><rect x="833.8" y="1417.5" width="9.0" height="9.0" rx="1" fill="#3a54a5"/><rect x="844.7" y="1419.5" width="9.0" height="9.0" rx="1" fill="#3a54a5"/><rect x="855.5" y="1413.2" width="9.0" height="9.0" rx="1" fill="#3a54a5"/><rect x="866.2" y="1412.9" width="9.0" height="9.0" rx="1" fill="#3a54a5"/><rect x="877.2" y="1414.5" width="9.0" height="9.0" rx="1" fill="#3a54a5"/><rect x="887.7" y="1407.5" width="9.0" height="9.0" rx="1" fill="#3a54a5"/><rect x="898.2" y="1409.6" width="9.0" height="9.0" rx="1" fill="#3a54a5"/><rect x="909.1" y="1415.9" width="9.0" height="9.0" rx="1" fill="#3a54a5"/><rect x="919.9" y="1418.3" width="9.0" height="9.0" rx="1" fill="#3a54a5"/><rect x="930.5" y="1414.5" width="9.0" height="9.0" rx="1" fill="#3a54a5"/><rect x="941.1" y="1415.9" width="9.0" height="9.0" rx="1" fill="#3a54a5"/><rect x="952.0" y="1413.3" width="9.0" height="9.0" rx="1" fill="#3a54a5"/><rect x="962.8" y="1417.0" width="9.0" height="9.0" rx="1" fill="#3a54a5"/><rect x="971.8" y="1413.0" width="9.0" height="9.0" rx="1" fill="#3a54a5"/><rect x="982.3" y="1413.0" width="9.0" height="9.0" rx="1" fill="#3a54a5"/><rect x="993.1" y="1419.6" width="9.0" height="9.0" rx="1" fill="#3a54a5"/><rect x="1003.8" y="1415.9" width="9.0" height="9.0" rx="1" fill="#3a54a5"/><rect x="1014.6" y="1421.4" width="9.0" height="9.0" rx="1" fill="#3a54a5"/><rect x="1025.5" y="1418.0" width="9.0" height="9.0" rx="1" fill="#3a54a5"/><rect x="1036.1" y="1418.3" width="9.0" height="9.0" rx="1" fill="#3a54a5"/><rect x="1047.0" y="1409.6" width="9.0" height="9.0" rx="1" fill="#3a54a5"/><rect x="1057.8" y="1410.9" width="9.0" height="9.0" rx="1" fill="#3a54a5"/><rect x="1068.4" y="1412.5" width="9.0" height="9.0" rx="1" fill="#3a54a5"/><rect x="1079.0" y="1414.6" width="9.0" height="9.0" rx="1" fill="#3a54a5"/><rect x="1089.9" y="1409.6" width="9.0" height="9.0" rx="1" fill="#3a54a5"/><rect x="1100.7" y="1415.9" width="9.0" height="9.0" rx="1" fill="#3a54a5"/><rect x="1109.4" y="1412.8" width="9.0" height="9.0" rx="1" fill="#3a54a5"/><rect x="1120.2" y="1418.3" width="9.0" height="9.0" rx="1" fill="#3a54a5"/><rect x="1131.0" y="1419.6" width="9.0" height="9.0" rx="1" fill="#3a54a5"/><rect x="1141.9" y="1419.5" width="9.0" height="9.0" rx="1" fill="#3a54a5"/><rect x="1152.7" y="1410.9" width="9.0" height="9.0" rx="1" fill="#3a54a5"/><rect x="1163.2" y="1414.6" width="9.0" height="9.0" rx="1" fill="#3a54a5"/><rect x="1174.0" y="1412.8" width="9.0" height="9.0" rx="1" fill="#3a54a5"/><rect x="1184.9" y="1416.4" width="9.0" height="9.0" rx="1" fill="#3a54a5"/><rect x="1195.5" y="1413.3" width="9.0" height="9.0" rx="1" fill="#3a54a5"/><rect x="1206.3" y="1403.7" width="9.0" height="9.0" rx="1" fill="#3a54a5"/><rect x="1216.9" y="1412.8" width="9.0" height="9.0" rx="1" fill="#3a54a5"/><rect x="1227.7" y="1412.8" width="9.0" height="9.0" rx="1" fill="#3a54a5"/><rect x="1238.3" y="1409.5" width="9.0" height="9.0" rx="1" fill="#3a54a5"/><rect x="1247.3" y="1415.9" width="9.0" height="9.0" rx="1" fill="#3a54a5"/><rect x="1257.9" y="1411.7" width="9.0" height="9.0" rx="1" fill="#3a54a5"/><rect x="1269.0" y="1406.4" width="9.0" height="9.0" rx="1" fill="#3a54a5"/><rect x="1279.6" y="1406.4" width="9.0" height="9.0" rx="1" fill="#3a54a5"/><rect x="199.3" y="1408.5" width="7.15" height="7.15" rx="0.6" fill="#f7ee0c" stroke="#3a54a5" stroke-width="1.95"/><rect x="210.2" y="1410.2" width="7.15" height="7.15" rx="0.6" fill="#f7ee0c" stroke="#3a54a5" stroke-width="1.95"/><rect x="221.0" y="1412.0" width="7.15" height="7.15" rx="0.6" fill="#f7ee0c" stroke="#3a54a5" stroke-width="1.95"/><rect x="231.6" y="1410.2" width="7.15" height="7.15" rx="0.6" fill="#f7ee0c" stroke="#3a54a5" stroke-width="1.95"/><rect x="242.2" y="1412.0" width="7.15" height="7.15" rx="0.6" fill="#f7ee0c" stroke="#3a54a5" stroke-width="1.95"/><rect x="253.0" y="1413.8" width="7.15" height="7.15" rx="0.6" fill="#f7ee0c" stroke="#3a54a5" stroke-width="1.95"/><rect x="262.1" y="1415.7" width="7.15" height="7.15" rx="0.6" fill="#f7ee0c" stroke="#3a54a5" stroke-width="1.95"/><rect x="272.9" y="1413.8" width="7.15" height="7.15" rx="0.6" fill="#f7ee0c" stroke="#3a54a5" stroke-width="1.95"/><rect x="283.6" y="1415.7" width="7.15" height="7.15" rx="0.6" fill="#f7ee0c" stroke="#3a54a5" stroke-width="1.95"/><rect x="294.2" y="1422.6" width="7.15" height="7.15" rx="0.6" fill="#f7ee0c" stroke="#3a54a5" stroke-width="1.95"/><rect x="305.1" y="1417.3" width="7.15" height="7.15" rx="0.6" fill="#f7ee0c" stroke="#3a54a5" stroke-width="1.95"/><rect x="315.7" y="1415.7" width="7.15" height="7.15" rx="0.6" fill="#f7ee0c" stroke="#3a54a5" stroke-width="1.95"/><rect x="326.6" y="1410.2" width="7.15" height="7.15" rx="0.6" fill="#f7ee0c" stroke="#3a54a5" stroke-width="1.95"/><rect x="337.2" y="1408.5" width="7.15" height="7.15" rx="0.6" fill="#f7ee0c" stroke="#3a54a5" stroke-width="1.95"/><rect x="347.8" y="1410.2" width="7.15" height="7.15" rx="0.6" fill="#f7ee0c" stroke="#3a54a5" stroke-width="1.95"/><rect x="358.7" y="1408.4" width="7.15" height="7.15" rx="0.6" fill="#f7ee0c" stroke="#3a54a5" stroke-width="1.95"/><rect x="369.5" y="1415.8" width="7.15" height="7.15" rx="0.6" fill="#f7ee0c" stroke="#3a54a5" stroke-width="1.95"/><rect x="380.1" y="1408.4" width="7.15" height="7.15" rx="0.6" fill="#f7ee0c" stroke="#3a54a5" stroke-width="1.95"/><rect x="390.9" y="1408.4" width="7.15" height="7.15" rx="0.6" fill="#f7ee0c" stroke="#3a54a5" stroke-width="1.95"/><rect x="399.6" y="1415.8" width="7.15" height="7.15" rx="0.6" fill="#f7ee0c" stroke="#3a54a5" stroke-width="1.95"/><rect x="410.7" y="1408.6" width="7.15" height="7.15" rx="0.6" fill="#f7ee0c" stroke="#3a54a5" stroke-width="1.95"/><rect x="421.3" y="1408.6" width="7.15" height="7.15" rx="0.6" fill="#f7ee0c" stroke="#3a54a5" stroke-width="1.95"/><rect x="432.1" y="1415.8" width="7.15" height="7.15" rx="0.6" fill="#f7ee0c" stroke="#3a54a5" stroke-width="1.95"/><rect x="442.7" y="1417.3" width="7.15" height="7.15" rx="0.6" fill="#f7ee0c" stroke="#3a54a5" stroke-width="1.95"/><rect x="453.6" y="1406.7" width="7.15" height="7.15" rx="0.6" fill="#f7ee0c" stroke="#3a54a5" stroke-width="1.95"/><rect x="464.2" y="1413.9" width="7.15" height="7.15" rx="0.6" fill="#f7ee0c" stroke="#3a54a5" stroke-width="1.95"/><rect x="475.1" y="1419.1" width="7.15" height="7.15" rx="0.6" fill="#f7ee0c" stroke="#3a54a5" stroke-width="1.95"/><rect x="485.9" y="1410.0" width="7.15" height="7.15" rx="0.6" fill="#f7ee0c" stroke="#3a54a5" stroke-width="1.95"/><rect x="496.5" y="1415.5" width="7.15" height="7.15" rx="0.6" fill="#f7ee0c" stroke="#3a54a5" stroke-width="1.95"/><rect x="507.1" y="1420.8" width="7.15" height="7.15" rx="0.6" fill="#f7ee0c" stroke="#3a54a5" stroke-width="1.95"/><rect x="517.9" y="1413.7" width="7.15" height="7.15" rx="0.6" fill="#f7ee0c" stroke="#3a54a5" stroke-width="1.95"/><rect x="528.5" y="1417.4" width="7.15" height="7.15" rx="0.6" fill="#f7ee0c" stroke="#3a54a5" stroke-width="1.95"/><rect x="539.4" y="1410.2" width="7.15" height="7.15" rx="0.6" fill="#f7ee0c" stroke="#3a54a5" stroke-width="1.95"/><rect x="548.4" y="1401.3" width="7.15" height="7.15" rx="0.6" fill="#f7ee0c" stroke="#3a54a5" stroke-width="1.95"/><rect x="559.0" y="1403.1" width="7.15" height="7.15" rx="0.6" fill="#f7ee0c" stroke="#3a54a5" stroke-width="1.95"/><rect x="569.8" y="1402.6" width="7.15" height="7.15" rx="0.6" fill="#f7ee0c" stroke="#3a54a5" stroke-width="1.95"/><rect x="580.9" y="1401.3" width="7.15" height="7.15" rx="0.6" fill="#f7ee0c" stroke="#3a54a5" stroke-width="1.95"/><rect x="591.5" y="1406.6" width="7.15" height="7.15" rx="0.6" fill="#f7ee0c" stroke="#3a54a5" stroke-width="1.95"/><rect x="602.3" y="1406.6" width="7.15" height="7.15" rx="0.6" fill="#f7ee0c" stroke="#3a54a5" stroke-width="1.95"/><rect x="612.9" y="1410.1" width="7.15" height="7.15" rx="0.6" fill="#f7ee0c" stroke="#3a54a5" stroke-width="1.95"/><rect x="623.6" y="1410.2" width="7.15" height="7.15" rx="0.6" fill="#f7ee0c" stroke="#3a54a5" stroke-width="1.95"/><rect x="634.4" y="1412.3" width="7.15" height="7.15" rx="0.6" fill="#f7ee0c" stroke="#3a54a5" stroke-width="1.95"/><rect x="645.0" y="1413.6" width="7.15" height="7.15" rx="0.6" fill="#f7ee0c" stroke="#3a54a5" stroke-width="1.95"/><rect x="655.8" y="1415.7" width="7.15" height="7.15" rx="0.6" fill="#f7ee0c" stroke="#3a54a5" stroke-width="1.95"/><rect x="666.5" y="1417.3" width="7.15" height="7.15" rx="0.6" fill="#f7ee0c" stroke="#3a54a5" stroke-width="1.95"/><rect x="677.3" y="1410.2" width="7.15" height="7.15" rx="0.6" fill="#f7ee0c" stroke="#3a54a5" stroke-width="1.95"/><rect x="686.3" y="1413.6" width="7.15" height="7.15" rx="0.6" fill="#f7ee0c" stroke="#3a54a5" stroke-width="1.95"/><rect x="696.8" y="1412.0" width="7.15" height="7.15" rx="0.6" fill="#f7ee0c" stroke="#3a54a5" stroke-width="1.95"/><rect x="707.7" y="1408.3" width="7.15" height="7.15" rx="0.6" fill="#f7ee0c" stroke="#3a54a5" stroke-width="1.95"/><rect x="718.5" y="1410.2" width="7.15" height="7.15" rx="0.6" fill="#f7ee0c" stroke="#3a54a5" stroke-width="1.95"/><rect x="729.1" y="1410.2" width="7.15" height="7.15" rx="0.6" fill="#f7ee0c" stroke="#3a54a5" stroke-width="1.95"/><rect x="739.9" y="1415.7" width="7.15" height="7.15" rx="0.6" fill="#f7ee0c" stroke="#3a54a5" stroke-width="1.95"/><rect x="750.8" y="1410.2" width="7.15" height="7.15" rx="0.6" fill="#f7ee0c" stroke="#3a54a5" stroke-width="1.95"/><rect x="761.5" y="1415.7" width="7.15" height="7.15" rx="0.6" fill="#f7ee0c" stroke="#3a54a5" stroke-width="1.95"/><rect x="772.1" y="1415.7" width="7.15" height="7.15" rx="0.6" fill="#f7ee0c" stroke="#3a54a5" stroke-width="1.95"/><rect x="782.9" y="1417.3" width="7.15" height="7.15" rx="0.6" fill="#f7ee0c" stroke="#3a54a5" stroke-width="1.95"/><rect x="793.6" y="1417.3" width="7.15" height="7.15" rx="0.6" fill="#f7ee0c" stroke="#3a54a5" stroke-width="1.95"/><rect x="804.3" y="1410.2" width="7.15" height="7.15" rx="0.6" fill="#f7ee0c" stroke="#3a54a5" stroke-width="1.95"/><rect x="815.1" y="1413.8" width="7.15" height="7.15" rx="0.6" fill="#f7ee0c" stroke="#3a54a5" stroke-width="1.95"/><rect x="824.1" y="1412.0" width="7.15" height="7.15" rx="0.6" fill="#f7ee0c" stroke="#3a54a5" stroke-width="1.95"/><rect x="834.7" y="1413.8" width="7.15" height="7.15" rx="0.6" fill="#f7ee0c" stroke="#3a54a5" stroke-width="1.95"/><rect x="845.6" y="1415.7" width="7.15" height="7.15" rx="0.6" fill="#f7ee0c" stroke="#3a54a5" stroke-width="1.95"/><rect x="856.4" y="1417.3" width="7.15" height="7.15" rx="0.6" fill="#f7ee0c" stroke="#3a54a5" stroke-width="1.95"/><rect x="867.1" y="1413.8" width="7.15" height="7.15" rx="0.6" fill="#f7ee0c" stroke="#3a54a5" stroke-width="1.95"/><rect x="878.1" y="1412.0" width="7.15" height="7.15" rx="0.6" fill="#f7ee0c" stroke="#3a54a5" stroke-width="1.95"/><rect x="888.6" y="1408.4" width="7.15" height="7.15" rx="0.6" fill="#f7ee0c" stroke="#3a54a5" stroke-width="1.95"/><rect x="899.1" y="1414.1" width="7.15" height="7.15" rx="0.6" fill="#f7ee0c" stroke="#3a54a5" stroke-width="1.95"/><rect x="910.0" y="1410.2" width="7.15" height="7.15" rx="0.6" fill="#f7ee0c" stroke="#3a54a5" stroke-width="1.95"/><rect x="920.8" y="1404.9" width="7.15" height="7.15" rx="0.6" fill="#f7ee0c" stroke="#3a54a5" stroke-width="1.95"/><rect x="931.4" y="1412.0" width="7.15" height="7.15" rx="0.6" fill="#f7ee0c" stroke="#3a54a5" stroke-width="1.95"/><rect x="942.0" y="1413.9" width="7.15" height="7.15" rx="0.6" fill="#f7ee0c" stroke="#3a54a5" stroke-width="1.95"/><rect x="952.9" y="1419.2" width="7.15" height="7.15" rx="0.6" fill="#f7ee0c" stroke="#3a54a5" stroke-width="1.95"/><rect x="963.7" y="1420.8" width="7.15" height="7.15" rx="0.6" fill="#f7ee0c" stroke="#3a54a5" stroke-width="1.95"/><rect x="972.7" y="1413.9" width="7.15" height="7.15" rx="0.6" fill="#f7ee0c" stroke="#3a54a5" stroke-width="1.95"/><rect x="983.2" y="1410.2" width="7.15" height="7.15" rx="0.6" fill="#f7ee0c" stroke="#3a54a5" stroke-width="1.95"/><rect x="994.0" y="1415.8" width="7.15" height="7.15" rx="0.6" fill="#f7ee0c" stroke="#3a54a5" stroke-width="1.95"/><rect x="1004.7" y="1413.9" width="7.15" height="7.15" rx="0.6" fill="#f7ee0c" stroke="#3a54a5" stroke-width="1.95"/><rect x="1015.5" y="1415.8" width="7.15" height="7.15" rx="0.6" fill="#f7ee0c" stroke="#3a54a5" stroke-width="1.95"/><rect x="1026.4" y="1413.9" width="7.15" height="7.15" rx="0.6" fill="#f7ee0c" stroke="#3a54a5" stroke-width="1.95"/><rect x="1037.0" y="1419.2" width="7.15" height="7.15" rx="0.6" fill="#f7ee0c" stroke="#3a54a5" stroke-width="1.95"/><rect x="1047.9" y="1417.3" width="7.15" height="7.15" rx="0.6" fill="#f7ee0c" stroke="#3a54a5" stroke-width="1.95"/><rect x="1058.7" y="1411.8" width="7.15" height="7.15" rx="0.6" fill="#f7ee0c" stroke="#3a54a5" stroke-width="1.95"/><rect x="1069.3" y="1406.7" width="7.15" height="7.15" rx="0.6" fill="#f7ee0c" stroke="#3a54a5" stroke-width="1.95"/><rect x="1079.9" y="1415.5" width="7.15" height="7.15" rx="0.6" fill="#f7ee0c" stroke="#3a54a5" stroke-width="1.95"/><rect x="1090.8" y="1413.7" width="7.15" height="7.15" rx="0.6" fill="#f7ee0c" stroke="#3a54a5" stroke-width="1.95"/><rect x="1101.6" y="1413.9" width="7.15" height="7.15" rx="0.6" fill="#f7ee0c" stroke="#3a54a5" stroke-width="1.95"/><rect x="1110.3" y="1413.7" width="7.15" height="7.15" rx="0.6" fill="#f7ee0c" stroke="#3a54a5" stroke-width="1.95"/><rect x="1121.1" y="1419.2" width="7.15" height="7.15" rx="0.6" fill="#f7ee0c" stroke="#3a54a5" stroke-width="1.95"/><rect x="1131.9" y="1415.5" width="7.15" height="7.15" rx="0.6" fill="#f7ee0c" stroke="#3a54a5" stroke-width="1.95"/><rect x="1142.8" y="1417.3" width="7.15" height="7.15" rx="0.6" fill="#f7ee0c" stroke="#3a54a5" stroke-width="1.95"/><rect x="1153.6" y="1411.8" width="7.15" height="7.15" rx="0.6" fill="#f7ee0c" stroke="#3a54a5" stroke-width="1.95"/><rect x="1164.1" y="1415.5" width="7.15" height="7.15" rx="0.6" fill="#f7ee0c" stroke="#3a54a5" stroke-width="1.95"/><rect x="1174.9" y="1413.7" width="7.15" height="7.15" rx="0.6" fill="#f7ee0c" stroke="#3a54a5" stroke-width="1.95"/><rect x="1185.8" y="1417.3" width="7.15" height="7.15" rx="0.6" fill="#f7ee0c" stroke="#3a54a5" stroke-width="1.95"/><rect x="1196.4" y="1420.8" width="7.15" height="7.15" rx="0.6" fill="#f7ee0c" stroke="#3a54a5" stroke-width="1.95"/><rect x="1207.2" y="1419.0" width="7.15" height="7.15" rx="0.6" fill="#f7ee0c" stroke="#3a54a5" stroke-width="1.95"/><rect x="1217.8" y="1413.7" width="7.15" height="7.15" rx="0.6" fill="#f7ee0c" stroke="#3a54a5" stroke-width="1.95"/><rect x="1228.6" y="1413.7" width="7.15" height="7.15" rx="0.6" fill="#f7ee0c" stroke="#3a54a5" stroke-width="1.95"/><rect x="1239.2" y="1413.7" width="7.15" height="7.15" rx="0.6" fill="#f7ee0c" stroke="#3a54a5" stroke-width="1.95"/><rect x="1248.2" y="1408.4" width="7.15" height="7.15" rx="0.6" fill="#f7ee0c" stroke="#3a54a5" stroke-width="1.95"/><rect x="1258.8" y="1417.3" width="7.15" height="7.15" rx="0.6" fill="#f7ee0c" stroke="#3a54a5" stroke-width="1.95"/><rect x="1269.9" y="1412.0" width="7.15" height="7.15" rx="0.6" fill="#f7ee0c" stroke="#3a54a5" stroke-width="1.95"/><rect x="1280.5" y="1412.0" width="7.15" height="7.15" rx="0.6" fill="#f7ee0c" stroke="#3a54a5" stroke-width="1.95"/><line x1="636.2" y1="1217.1" x2="636.2" y2="1499.0" stroke="#ec1c24" stroke-width="5.6" stroke-dasharray="24.4 18.7"/><rect x="137.3" y="1237.0" width="167.7" height="69.0" fill="#fff" stroke="#262626" stroke-width="4.8"/><rect x="186.0" y="1251.8" width="9.0" height="9.0" rx="1" fill="#3a54a5"/><rect x="186.9" y="1283.2" width="7.15" height="7.15" rx="0.6" fill="#f7ee0c" stroke="#3a54a5" stroke-width="1.95"/><text transform="translate(241.60,1265.80) scale(1,1.02)" font-size="23.7" fill="#000">East</text><text transform="translate(241.30,1297.90) scale(1,1.02)" font-size="23.7" fill="#000">West</text><text transform="translate(102.60,1508.50) scale(1,1.08)" font-size="26.6" fill="#323232" text-anchor="end">0</text><text transform="translate(102.60,1431.10) scale(1,1.08)" font-size="26.6" fill="#323232" text-anchor="end">100</text><text transform="translate(102.60,1353.60) scale(1,1.08)" font-size="26.6" fill="#323232" text-anchor="end">200</text><text transform="translate(102.60,1276.10) scale(1,1.08)" font-size="26.6" fill="#323232" text-anchor="end">300</text><text transform="translate(112.20,1536.90) scale(1,1.05)" font-size="26.6" fill="#323232" text-anchor="middle">04/25</text><text transform="translate(366.40,1536.90) scale(1,1.05)" font-size="26.6" fill="#323232" text-anchor="middle">04/26</text><text transform="translate(620.50,1536.90) scale(1,1.05)" font-size="26.6" fill="#323232" text-anchor="middle">04/27</text><text transform="translate(874.80,1536.90) scale(1,1.05)" font-size="26.6" fill="#323232" text-anchor="middle">04/28</text><text transform="translate(1128.80,1536.90) scale(1,1.05)" font-size="26.6" fill="#323232" text-anchor="middle">04/29</text><text transform="translate(1384.40,1536.90) scale(1,1.05)" font-size="26.6" fill="#323232" text-anchor="middle">04/30</text></g>
<text transform="translate(-0.50,24.20) scale(1,1.04)" font-size="29.3" fill="#000" font-weight="bold">A</text>
<text transform="translate(0.30,445.00) scale(1,1.04)" font-size="29.3" fill="#000" font-weight="bold">B</text>
<text transform="translate(-0.20,811.30) scale(1,1.04)" font-size="29.3" fill="#000" font-weight="bold">C</text>
<text transform="translate(0.20,1174.00) scale(1,1.04)" font-size="29.3" fill="#000" font-weight="bold">D</text>
<text transform="translate(5.70,1570.00) scale(1,1.0)" font-size="32.5" fill="#000" font-weight="bold">(D)</text>
<text transform="translate(58.50,256.10) rotate(-90) scale(1,1.0)" font-size="35" fill="#323232">H</text>
<text transform="translate(74.50,229.00) rotate(-90) scale(1,1.0)" font-size="28" fill="#323232">m0</text>
<text transform="translate(58.50,176.60) rotate(-90) scale(1,1.0)" font-size="35" fill="#323232">(m)</text>
<text transform="translate(58.50,653.20) rotate(-90) scale(1,1.0)" font-size="35" fill="#323232">H</text>
<text transform="translate(74.50,626.10) rotate(-90) scale(1,1.0)" font-size="28" fill="#323232">max</text>
<text transform="translate(58.50,560.20) rotate(-90) scale(1,1.0)" font-size="35" fill="#323232">(m)</text>
<text transform="translate(47.80,1008.30) rotate(-90) scale(1,1.0)" font-size="28" fill="#323232">T</text>
<text transform="translate(62.10,987.70) rotate(-90) scale(1,1.0)" font-size="22" fill="#323232">p</text>
<text transform="translate(47.80,965.00) rotate(-90) scale(1,1.0)" font-size="28" fill="#323232">(s)</text>
<text transform="translate(28.10,1500.50) rotate(-90) scale(1,1.0)" font-size="35" fill="#323232">T</text>
<text transform="translate(44.10,1477.00) rotate(-90) scale(1,1.0)" font-size="25.5" fill="#323232">p</text>
<text transform="translate(28.10,1449.60) rotate(-90) scale(1,1.0)" font-size="35.5" fill="#323232">Direction (deg)</text>
</svg></body></html>
